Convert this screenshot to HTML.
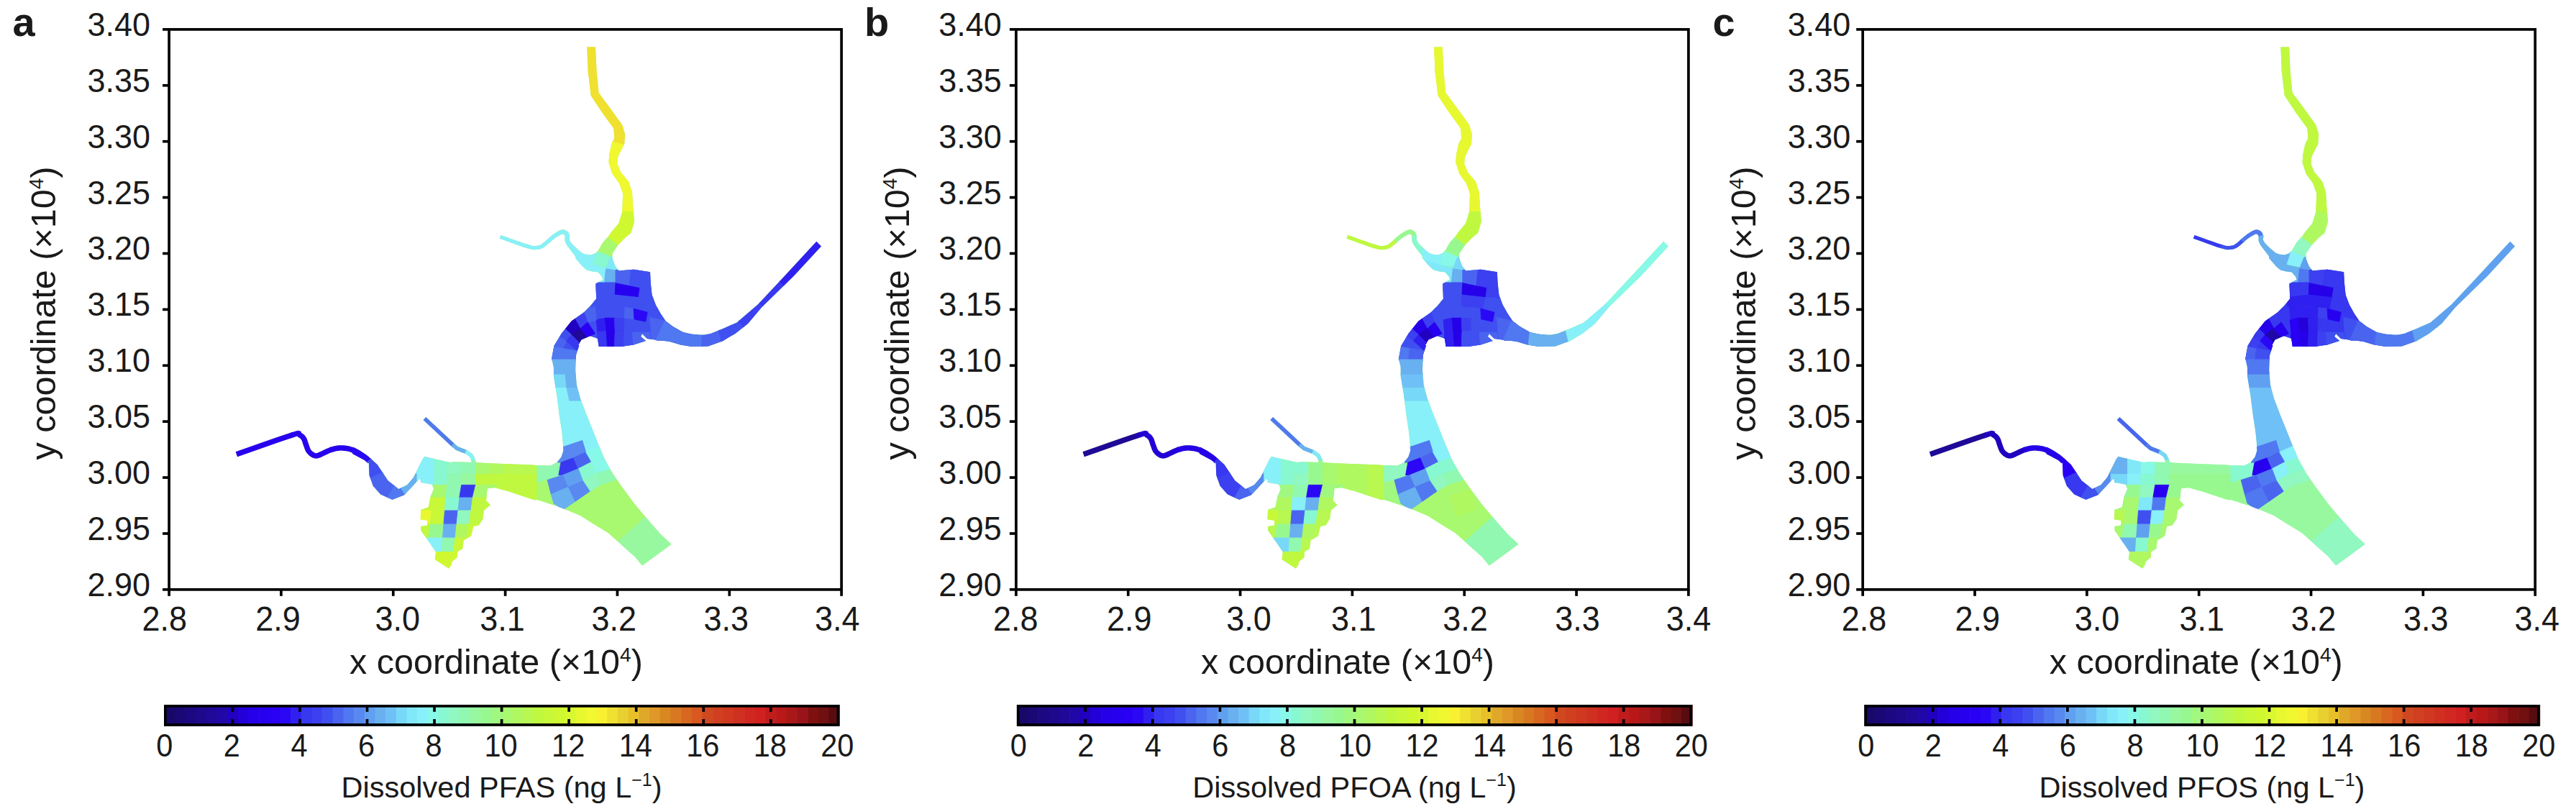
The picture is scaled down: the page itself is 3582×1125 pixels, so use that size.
<!DOCTYPE html>
<html><head><meta charset="utf-8"><style>
html,body{margin:0;padding:0;background:#fff;width:3582px;height:1125px;overflow:hidden}
svg{display:block}
text{font-family:"Liberation Sans", sans-serif;fill:#1a1a1a}
</style></head><body>
<svg width="3582" height="1125" viewBox="0 0 3582 1125">
<rect width="3582" height="1125" fill="#fff"/>
<defs><clipPath id="riv"><polygon points="816.3,65.4 817.7,99.5 821.7,133.1 837.5,156.8 853.3,178.6 854.3,192.4 850.4,200.0 847.4,213.8 846.4,225.7 851.4,241.5 861.3,255.3 866.2,269.2 865.2,294.9 860.3,310.7 850.4,322.5 845.5,329.4 838.6,336.8 831.7,348.7 827.7,352.6 821.8,354.6 812.9,353.6 810.9,352.6 800.0,348.7 800.0,358.6 804.0,363.5 809.9,370.4 815.8,375.4 823.7,377.4 831.7,378.4 836.6,384.3 839.6,391.2 840.6,396.0 862.0,396.0 860.3,376.4 855.4,369.5 851.4,359.6 851.4,352.6 859.3,340.8 869.2,330.4 877.2,324.0 879.0,318.6 882.0,307.7 880.0,285.0 879.0,267.2 874.1,252.4 863.2,239.5 858.3,227.7 859.3,217.8 868.2,200.0 869.1,186.5 865.2,173.7 847.4,148.9 832.5,129.1 829.6,99.5 828.0,65.4"/><polygon points="694.7,331.7 699.1,333.3 705.5,335.6 712.9,338.3 720.5,341.0 727.3,343.4 732.6,345.1 736.2,346.1 738.8,346.8 740.8,347.1 742.4,347.3 743.9,347.2 745.5,347.1 747.2,347.0 749.0,346.8 750.7,346.4 752.5,345.8 754.4,344.9 756.5,343.8 758.8,342.1 761.2,340.1 763.7,337.8 766.2,335.6 768.6,333.5 770.7,331.8 772.7,330.4 774.8,329.1 776.8,327.9 778.6,326.9 780.2,326.1 781.5,325.6 782.3,325.4 782.8,325.5 783.1,325.5 783.3,325.7 783.7,325.9 784.2,326.3 784.5,326.5 784.7,326.8 785.0,327.1 785.2,327.6 785.5,328.2 785.6,328.7 785.7,329.1 785.6,329.9 785.5,331.0 785.4,332.4 785.5,334.2 785.9,336.0 786.5,337.6 787.2,339.0 788.0,340.5 789.0,341.9 790.1,343.5 791.5,345.3 793.1,347.5 795.1,350.0 797.2,352.7 799.4,355.4 801.5,357.9 803.4,360.0 805.2,361.9 807.0,363.5 808.6,364.8 809.9,365.9 810.9,366.8 811.5,367.5 818.5,356.5 817.4,356.1 816.1,355.7 814.8,355.1 813.3,354.5 811.8,353.6 810.2,352.6 808.2,351.1 805.9,349.1 803.4,346.9 801.0,344.6 798.7,342.5 796.9,340.7 795.6,339.2 794.5,337.9 793.6,336.8 793.0,335.8 792.5,334.9 792.1,334.0 791.9,333.3 791.9,332.6 792.0,331.6 792.1,330.4 792.2,328.9 792.0,327.3 791.6,326.0 791.1,324.8 790.5,323.7 789.7,322.6 788.8,321.7 787.8,320.9 786.9,320.4 785.9,319.9 784.5,319.5 783.0,319.3 781.3,319.5 779.5,320.0 777.7,320.7 775.8,321.7 773.8,322.9 771.7,324.3 769.5,325.8 767.3,327.4 765.0,329.3 762.5,331.5 760.0,333.8 757.6,335.9 755.4,337.8 753.5,339.2 751.9,340.2 750.5,340.9 749.3,341.3 748.1,341.6 746.7,341.8 745.1,341.9 743.6,342.0 742.5,342.1 741.4,342.0 739.9,341.7 737.6,341.1 734.2,340.1 729.0,338.4 722.2,336.1 714.6,333.4 707.2,330.7 700.9,328.4 696.5,326.9"/><polygon points="828.3,394.6 860.3,376.4 881.1,374.7 904.0,378.2 904.8,394.6 906.6,410.2 911.8,424.0 918.7,436.2 925.6,446.5 936.0,454.3 949.8,462.1 962.0,464.7 962.0,480.0 926.0,474.2 900.0,471.0 893.0,464.0 891.0,468.0 898.0,474.0 881.0,479.4 863.8,482.0 832.7,482.0 831.0,470.7 820.5,467.3 808.4,472.5 801.5,484.6 799.8,500.0 766.9,500.0 770.4,481.0 780.8,463.8 794.6,446.5 811.9,434.4 820.5,425.7 829.2,415.4"/><polygon points="903.3,380.0 904.8,394.6 906.6,410.2 911.8,424.0 918.7,436.2 925.6,446.5 936.0,454.3 949.8,462.1 962.0,464.7 977.8,465.7 987.9,463.9 1005.2,456.9 1024.6,448.5 1054.2,423.0 1087.5,387.5 1135.3,335.8 1142.0,342.5 1103.9,383.8 1059.3,427.2 1040.2,450.0 1022.5,463.9 1005.2,474.2 984.5,481.8 962.0,482.0 946.4,479.4 925.6,473.4 913.3,473.5"/><polygon points="770.4,481.0 767.3,499.0 769.9,511.1 769.9,523.3 774.2,549.2 777.7,576.9 781.2,600.0 782.7,614.8 783.4,626.7 780.5,635.6 774.5,643.0 765.6,647.5 730.0,646.7 730.0,690.5 752.3,696.5 774.5,703.9 789.4,709.8 807.2,717.2 825.7,729.1 845.5,740.9 863.3,756.8 883.1,774.6 893.0,786.4 933.6,756.8 918.7,742.9 902.9,725.1 883.1,701.4 865.3,677.6 851.5,657.8 841.6,640.0 833.9,622.3 825.0,600.0 815.7,576.9 807.1,554.4 801.9,535.4 800.2,514.6 801.0,493.8 805.4,480.0"/><polygon points="589.8,634.8 605.9,638.5 625.6,642.9 631.8,642.3 656.5,642.9 693.6,644.7 740.0,646.6 745.0,647.0 745.0,695.5 740.0,694.2 706.0,683.1 687.5,678.1 677.6,679.3 675.9,696.3 681.8,702.2 672.9,709.7 671.4,721.5 665.5,730.4 658.1,731.9 655.1,745.3 644.7,751.2 643.2,763.1 635.8,767.5 635.8,774.9 628.4,780.9 627.7,785.3 624.0,790.5 604.7,777.9 606.1,767.5 592.8,748.2 585.4,737.8 585.4,731.9 594.3,730.4 594.3,723.8 584.6,722.3 585.4,708.9 595.8,705.2 598.7,690.4 603.2,680.0 600.9,673.8 584.8,670.7 585.5,667.0 582.4,665.7"/><polygon points="330.1,635.3 339.4,632.0 352.9,627.3 368.5,621.7 384.2,616.2 398.1,611.5 407.9,608.2 413.3,606.6 415.6,606.2 413.3,605.2 412.3,602.5 412.1,605.1 414.3,607.8 415.8,608.5 416.5,609.0 417.3,609.5 417.9,610.2 418.6,611.1 419.3,612.0 419.8,612.9 420.2,614.0 420.7,615.4 421.1,616.9 421.6,618.6 422.2,620.3 422.8,621.8 423.3,623.3 423.9,625.0 424.7,626.7 425.5,628.5 426.7,630.1 428.0,631.6 429.4,633.0 430.9,634.2 432.4,635.3 434.0,636.2 435.6,636.8 436.9,637.3 438.3,637.6 439.9,637.6 441.4,637.4 442.9,637.0 444.8,636.4 447.2,635.4 449.9,634.1 452.9,632.7 455.9,631.3 458.7,630.1 461.2,629.1 463.5,628.4 465.8,627.7 467.8,627.2 469.9,626.9 472.0,626.7 474.2,626.6 476.6,626.7 479.1,626.9 481.7,627.3 484.3,627.8 486.9,628.5 489.3,629.3 491.7,630.3 494.1,631.5 496.6,632.9 499.0,634.4 501.3,635.9 503.3,637.2 505.1,638.5 506.8,639.9 508.3,641.2 509.7,642.5 510.9,643.6 511.9,644.4 516.7,638.8 515.9,638.1 514.7,637.0 513.2,635.6 511.5,634.2 509.6,632.6 507.5,631.2 505.3,629.7 503.0,628.2 500.4,626.5 497.6,625.0 494.8,623.5 491.9,622.3 489.0,621.4 486.0,620.6 483.0,620.0 480.0,619.6 477.1,619.3 474.2,619.2 471.5,619.3 468.9,619.5 466.4,620.0 463.9,620.6 461.4,621.3 458.8,622.1 455.9,623.2 452.8,624.6 449.7,626.1 446.8,627.5 444.2,628.6 442.2,629.4 440.7,629.9 439.8,630.2 439.3,630.3 439.2,630.3 438.9,630.2 438.2,630.0 437.3,629.6 436.4,629.0 435.3,628.3 434.2,627.4 433.3,626.5 432.5,625.7 431.9,624.8 431.4,623.7 430.9,622.3 430.3,620.9 429.8,619.3 429.2,617.7 428.7,616.3 428.2,614.8 427.7,613.2 427.2,611.5 426.5,609.7 425.5,608.0 424.5,606.6 423.5,605.3 422.2,604.0 420.8,602.9 419.2,601.9 418.3,601.6 419.3,603.1 419.5,604.2 418.7,600.1 414.8,598.8 411.4,599.5 405.7,601.2 395.7,604.5 381.8,609.2 366.0,614.8 350.4,620.3 336.9,625.0 327.7,628.3"/><polygon points="492.0,623.8 509.8,632.7 524.7,646.0 539.5,668.3 554.3,680.1 566.2,674.2 575.1,663.8 588.4,637.1 593.0,640.0 582.0,667.0 572.0,678.0 562.0,688.5 545.4,695.0 529.1,687.5 518.7,675.7 513.4,660.8 512.8,643.1 490.0,631.0"/><polygon points="588.5,583.9 627.6,620.6 634.1,625.9 646.9,630.9 653.1,635.2 655.4,640.0 656.3,646.4 661.9,645.6 660.8,638.4 657.3,631.4 649.5,625.9 636.7,620.9 631.4,616.4 592.3,579.9"/></clipPath></defs>
<g transform="translate(0.00,0)"><g clip-path="url(#riv)">
<polygon points="300.0,50.0 1170.0,50.0 1170.0,810.0 300.0,810.0" fill="#a8f870" stroke="#a8f870" stroke-width="0.9"/>
<polygon points="760.0,396.0 858.0,396.0 860.0,372.0 910.0,372.0 915.0,425.0 970.0,465.0 960.0,490.0 760.0,500.0" fill="#4050f0" stroke="#4050f0" stroke-width="0.9"/>
<polygon points="328.9,631.8 333.2,644.1 342.5,640.8 356.0,636.0 371.6,630.5 387.3,625.0 401.0,620.3 410.8,617.1 411.4,616.9 404.1,591.9 402.8,592.3 392.7,595.6 378.7,600.4 362.9,606.0 347.3,611.5 333.8,616.3 324.6,619.5 328.9,631.8" fill="#2800f0" stroke="#2800f0" stroke-width="0.9"/>
<polygon points="410.7,617.1 410.5,617.2 415.7,615.6 416.6,615.4 406.6,611.6 403.3,600.3 403.2,607.5 409.4,615.7 411.6,616.8 411.2,616.5 411.0,616.4 411.0,616.5 411.2,616.7 411.4,616.9 411.3,616.8 411.5,617.2 411.8,618.1 412.2,619.6 412.8,621.6 413.5,623.5 414.1,625.0 414.6,626.5 415.3,628.4 416.2,630.6 417.5,633.1 419.3,635.8 421.2,638.1 423.2,640.0 425.3,641.7 427.5,643.2 429.8,644.5 432.2,645.5 434.4,646.3 437.2,646.8 440.6,646.9 443.5,646.5 445.7,645.9 448.0,645.1 450.9,644.0 453.9,642.6 456.9,641.1 459.7,639.8 462.2,638.7 464.4,637.8 465.0,637.7 457.2,612.9 455.6,613.4 452.3,614.6 448.9,616.1 445.7,617.7 442.8,619.0 440.5,620.1 439.0,620.7 438.0,621.0 437.7,621.1 438.6,621.0 440.4,621.0 441.4,621.2 441.6,621.3 441.5,621.3 441.3,621.1 440.9,620.8 440.4,620.4 440.0,620.1 439.9,620.0 440.0,620.1 439.8,619.8 439.5,619.0 439.1,617.7 438.5,616.1 437.9,614.5 437.5,613.4 437.1,612.1 436.6,610.4 435.9,608.3 434.9,605.7 433.4,603.1 431.9,601.0 430.4,599.1 428.5,597.2 426.2,595.3 423.5,593.7 423.2,593.7 428.2,600.7 428.6,606.3 425.5,593.8 413.8,589.6 409.1,590.5 403.1,592.2 402.5,592.4" fill="#2800f0" stroke="#2800f0" stroke-width="0.9"/>
<polygon points="464.5,637.8 463.9,638.0 466.2,637.3 468.1,636.7 469.7,636.3 471.2,636.1 472.6,635.9 474.1,635.9 476.0,636.0 478.0,636.2 480.1,636.5 482.3,636.9 484.3,637.4 486.4,638.1 486.2,638.1 496.2,614.1 494.8,613.5 491.6,612.5 488.1,611.5 484.6,610.8 481.1,610.3 477.7,610.0 474.3,609.9 470.9,610.0 467.6,610.3 464.5,610.9 461.5,611.6 458.7,612.4 456.1,613.2 455.4,613.5" fill="#2800f0" stroke="#2800f0" stroke-width="0.9"/>
<polygon points="486.1,638.0 485.8,637.9 487.8,638.7 489.7,639.7 491.8,640.9 494.0,642.2 496.1,643.6 498.2,645.0 500.0,646.2 501.3,647.1 502.2,647.8 502.8,648.3 503.5,648.9 504.0,649.5 523.7,632.6 522.4,631.1 520.4,629.2 518.4,627.4 516.4,625.9 514.5,624.6 512.6,623.4 510.5,621.9 508.0,620.3 505.1,618.6 502.0,616.8 498.7,615.1 495.4,613.7 494.1,613.3" fill="#2a08f5" stroke="#2a08f5" stroke-width="0.9"/>
<polygon points="503.2,648.6 504.1,649.6 504.8,650.7 505.7,652.1 506.7,653.9 507.9,656.1 509.2,658.6 510.5,661.0 511.7,663.4 513.0,666.1 513.4,667.1 537.0,656.0 536.5,655.0 535.0,651.9 533.5,649.0 532.1,646.4 530.9,644.0 529.6,641.5 528.1,638.9 526.4,636.2 524.5,633.6 522.9,631.7" fill="#4050f0" stroke="#4050f0" stroke-width="0.9"/>
<polygon points="513.0,666.0 513.0,666.0 514.4,669.1 516.1,672.5 518.1,676.1 520.4,679.6 522.8,682.7 525.4,685.9 528.2,689.1 531.4,692.3 535.0,695.2 537.5,696.7 550.5,674.2 550.2,674.1 548.9,673.0 547.1,671.3 545.2,669.1 543.3,666.7 541.6,664.4 540.3,662.5 539.1,660.3 537.8,657.8 536.5,655.0 536.4,654.9" fill="#4a64f0" stroke="#4a64f0" stroke-width="0.9"/>
<polygon points="536.5,696.1 539.9,697.9 544.8,699.5 549.8,699.9 554.4,699.5 558.5,698.4 562.1,697.0 565.6,695.2 568.5,693.3 569.8,692.3 552.9,672.5 554.0,671.7 552.4,672.8 551.4,673.3 550.3,673.7 549.7,673.9 549.6,673.9 549.9,674.0 550.1,674.1 549.4,673.6" fill="#5078f0" stroke="#5078f0" stroke-width="0.9"/>
<polygon points="567.5,693.9 569.4,692.7 572.4,690.1 575.2,687.3 577.8,684.4 580.1,681.6 582.3,678.9 584.4,676.1 586.3,673.2 588.0,670.4 589.6,667.5 591.1,664.8 591.8,663.4 568.7,651.5 568.1,652.6 566.8,655.1 565.6,657.3 564.4,659.3 563.1,661.2 561.7,663.1 560.0,665.2 558.2,667.4 556.4,669.3 554.8,671.0 553.2,672.3 553.2,672.3" fill="#68b0f0" stroke="#68b0f0" stroke-width="0.9"/>
<polygon points="591.2,664.5 592.6,661.8 594.2,658.5 595.9,654.9 597.5,651.2 598.9,647.9 600.1,645.1 600.9,643.1 589.0,638.0 589.0,638.0 577.1,632.9 576.2,634.9 575.0,637.7 573.6,640.9 572.2,644.3 570.7,647.4 569.4,650.2 568.2,652.5" fill="#88f0f8" stroke="#88f0f8" stroke-width="0.9"/>
<polygon points="590.4,581.9 585.6,587.0 624.7,623.6 625.9,624.6 634.9,613.9 634.3,613.4 595.2,576.8 590.4,581.9" fill="#5078f0" stroke="#5078f0" stroke-width="0.9"/>
<polygon points="624.7,623.6 625.0,623.9 632.1,629.6 645.6,634.9 644.7,634.5 652.7,623.0 650.8,621.9 638.7,617.2 634.0,613.1 634.3,613.4" fill="#68b0f0" stroke="#68b0f0" stroke-width="0.9"/>
<polygon points="645.1,634.7 644.3,634.2 650.0,638.0 651.4,641.3 652.2,647.0 659.1,646.0 659.1,646.0 666.0,645.0 664.8,637.1 660.4,628.6 652.1,622.6 650.2,621.7" fill="#88f0f8" stroke="#88f0f8" stroke-width="0.9"/>
<polygon points="822.0,65.0 807.0,65.7 808.6,100.6 812.9,136.0 830.3,161.5 846.0,183.0 846.7,189.4 844.6,196.5 845.0,195.2 873.1,205.6 873.8,203.5 876.7,189.6 872.6,169.0 854.7,144.1 841.1,126.0 838.6,98.4 837.0,64.3 822.0,65.0" fill="#f0e030" stroke="#f0e030" stroke-width="0.9"/>
<polygon points="844.8,195.8 845.1,194.9 838.9,212.1 837.6,229.0 844.2,247.9 854.6,261.1 857.7,270.2 857.6,289.8 857.2,294.5 887.2,296.7 887.6,290.2 887.5,266.2 880.8,246.5 870.4,233.1 867.2,224.4 867.9,219.5 873.3,205.1 874.0,202.7" fill="#f0f830" stroke="#f0f830" stroke-width="0.9"/>
<polygon points="857.3,293.3 856.8,305.1 852.4,312.1 845.3,320.7 840.0,327.7 864.0,345.7 868.7,339.3 877.2,329.1 885.6,313.3 887.2,295.5" fill="#d0f830" stroke="#d0f830" stroke-width="0.9"/>
<polygon points="840.7,326.8 835.8,333.2 828.1,344.3 822.6,355.3 836.0,362.0 836.0,362.0 849.4,368.7 853.9,359.7 860.2,350.8 864.7,344.8" fill="#a8f870" stroke="#a8f870" stroke-width="0.9"/>
<polygon points="695.6,329.3 693.3,335.9 731.1,349.2 732.9,349.6 735.1,335.8 735.7,336.0 697.9,322.7 695.6,329.3" fill="#88f0f8" stroke="#88f0f8" stroke-width="0.9"/>
<polygon points="730.5,349.0 732.2,349.5 745.7,351.5 758.4,347.6 768.1,339.6 759.0,328.9 751.6,335.4 744.9,337.5 734.6,335.7 735.2,335.8" fill="#88f0f8" stroke="#88f0f8" stroke-width="0.9"/>
<polygon points="767.2,340.3 772.7,335.5 783.8,329.6 781.4,329.3 782.3,331.9 781.6,329.6 795.6,329.6 794.9,326.1 790.6,318.7 779.4,316.4 765.3,323.7 758.1,329.7" fill="#88f0f8" stroke="#88f0f8" stroke-width="0.9"/>
<polygon points="782.1,331.7 781.6,329.3 782.1,336.6 788.8,347.4 801.8,361.2 804.4,363.2 812.4,351.7 811.8,351.4 799.6,338.6 795.1,331.4 795.6,328.7 794.5,325.2" fill="#88f0f8" stroke="#88f0f8" stroke-width="0.9"/>
<polygon points="803.4,362.5 811.0,367.7 815.0,362.0 815.0,362.0 819.0,356.3 811.4,351.0" fill="#88f0f8" stroke="#88f0f8" stroke-width="0.9"/>
<polygon points="800.0,346.0 830.7,349.7 824.7,368.5 800.0,362.0" fill="#88f0f8" stroke="#88f0f8" stroke-width="0.9"/>
<polygon points="830.7,349.7 851.4,358.1 849.5,371.4 824.7,368.5" fill="#88f8d0" stroke="#88f8d0" stroke-width="0.9"/>
<polygon points="800.0,362.0 824.7,368.5 843.5,372.4 841.5,395.0 800.0,395.0" fill="#88f0f8" stroke="#88f0f8" stroke-width="0.9"/>
<polygon points="848.5,358.6 856.0,355.0 863.0,377.0 842.5,373.9" fill="#80e8f8" stroke="#80e8f8" stroke-width="0.9"/>
<polygon points="842.5,373.9 859.3,376.4 858.4,394.2 840.6,392.2" fill="#68b0f0" stroke="#68b0f0" stroke-width="0.9"/>
<polygon points="856.0,375.6 879.4,373.8 877.6,398.1 856.0,393.7" fill="#4a64f0" stroke="#4a64f0" stroke-width="0.9"/>
<polygon points="877.6,373.8 908.8,377.3 908.8,396.3 889.8,400.7 875.1,396.3" fill="#4050f0" stroke="#4050f0" stroke-width="0.9"/>
<polygon points="825.7,392.9 856.0,392.9 855.2,410.2 825.7,413.6" fill="#4050f0" stroke="#4050f0" stroke-width="0.9"/>
<polygon points="856.0,393.7 889.8,400.7 888.0,413.6 855.2,409.3" fill="#2800f0" stroke="#2800f0" stroke-width="0.9"/>
<polygon points="889.8,400.7 908.8,394.6 910.5,415.4 888.0,413.6" fill="#4050f0" stroke="#4050f0" stroke-width="0.9"/>
<polygon points="825.7,413.6 855.2,410.2 854.3,425.7 825.7,426.6" fill="#4050f0" stroke="#4050f0" stroke-width="0.9"/>
<polygon points="855.2,410.2 888.0,413.6 884.6,429.2 854.3,425.7" fill="#4050f0" stroke="#4050f0" stroke-width="0.9"/>
<polygon points="888.0,413.6 910.5,415.4 915.7,429.2 884.6,429.2" fill="#4050f0" stroke="#4050f0" stroke-width="0.9"/>
<polygon points="811.9,429.2 827.5,426.6 829.2,444.8 817.1,448.2" fill="#4a64f0" stroke="#4a64f0" stroke-width="0.9"/>
<polygon points="827.5,426.6 869.0,427.5 868.1,443.0 829.2,444.8" fill="#4050f0" stroke="#4050f0" stroke-width="0.9"/>
<polygon points="869.0,427.5 881.1,429.2 882.0,444.8 868.1,443.0" fill="#4a64f0" stroke="#4a64f0" stroke-width="0.9"/>
<polygon points="881.1,429.2 901.0,434.4 898.4,448.2 882.0,444.8" fill="#2a08f5" stroke="#2a08f5" stroke-width="0.9"/>
<polygon points="901.0,434.4 915.7,429.2 931.3,450.0 898.4,448.2" fill="#4050f0" stroke="#4050f0" stroke-width="0.9"/>
<polygon points="829.2,444.8 841.3,442.2 843.0,460.3 830.9,462.1" fill="#3020f0" stroke="#3020f0" stroke-width="0.9"/>
<polygon points="841.3,442.2 854.3,442.2 855.2,460.3 843.0,460.3" fill="#2800f0" stroke="#2800f0" stroke-width="0.9"/>
<polygon points="854.3,442.2 869.0,443.0 868.1,460.3 855.2,460.3" fill="#3c40f0" stroke="#3c40f0" stroke-width="0.9"/>
<polygon points="868.1,443.0 882.0,444.8 881.1,462.1 868.1,460.3" fill="#4050f0" stroke="#4050f0" stroke-width="0.9"/>
<polygon points="882.0,444.8 898.4,448.2 894.9,462.1 881.1,462.1" fill="#4050f0" stroke="#4050f0" stroke-width="0.9"/>
<polygon points="830.9,462.1 843.0,460.3 844.8,484.6 829.2,484.6" fill="#3838f0" stroke="#3838f0" stroke-width="0.9"/>
<polygon points="843.0,460.3 855.2,460.3 854.3,484.6 844.8,484.6" fill="#2600e8" stroke="#2600e8" stroke-width="0.9"/>
<polygon points="855.2,460.3 868.1,460.3 867.3,484.6 854.3,484.6" fill="#3c40f0" stroke="#3c40f0" stroke-width="0.9"/>
<polygon points="868.1,460.3 879.4,462.1 881.1,484.6 867.3,484.6" fill="#4050f0" stroke="#4050f0" stroke-width="0.9"/>
<polygon points="879.4,462.1 903.6,462.1 907.1,481.1 881.1,484.6" fill="#4a64f0" stroke="#4a64f0" stroke-width="0.9"/>
<polygon points="903.6,441.3 926.1,446.5 920.9,481.1 907.1,481.1" fill="#4a64f0" stroke="#4a64f0" stroke-width="0.9"/>
<polygon points="811.9,434.4 827.5,426.6 829.2,444.8 817.1,448.2" fill="#4a64f0" stroke="#4a64f0" stroke-width="0.9"/>
<polygon points="798.1,441.3 811.9,434.4 817.1,448.2 805.0,455.2" fill="#3c40f0" stroke="#3c40f0" stroke-width="0.9"/>
<polygon points="782.5,454.3 798.1,441.3 806.7,456.9 794.6,465.5" fill="#2200c0" stroke="#2200c0" stroke-width="0.9"/>
<polygon points="794.6,465.5 806.7,456.9 817.1,469.0 806.7,479.4" fill="#200898" stroke="#200898" stroke-width="0.9"/>
<polygon points="806.7,456.9 817.1,448.2 827.5,463.8 817.1,469.0" fill="#2a00f5" stroke="#2a00f5" stroke-width="0.9"/>
<polygon points="770.4,463.8 782.5,454.3 794.6,465.5 787.7,474.2" fill="#4050f0" stroke="#4050f0" stroke-width="0.9"/>
<polygon points="763.5,481.1 770.4,463.8 787.7,474.2 782.5,484.6" fill="#4a64f0" stroke="#4a64f0" stroke-width="0.9"/>
<polygon points="787.7,474.2 794.6,465.5 808.4,479.4 803.3,488.0" fill="#3838f0" stroke="#3838f0" stroke-width="0.9"/>
<polygon points="763.5,501.9 763.5,481.1 782.5,484.6 780.8,501.9" fill="#5078f0" stroke="#5078f0" stroke-width="0.9"/>
<polygon points="780.8,501.9 782.5,484.6 803.3,488.0 805.0,501.9" fill="#5078f0" stroke="#5078f0" stroke-width="0.9"/>
<polygon points="918.0,460.0 911.8,473.7 935.0,484.1 947.8,486.0 951.2,456.2 945.0,455.9 924.2,446.3 918.0,460.0" fill="#5078f0" stroke="#5078f0" stroke-width="0.9"/>
<polygon points="946.6,485.9 954.3,486.7 976.2,488.4 978.4,458.5 956.9,456.9 950.0,456.1" fill="#5078f0" stroke="#5078f0" stroke-width="0.9"/>
<polygon points="975.0,488.3 981.1,488.1 1006.2,482.0 999.0,452.8 974.5,458.9 977.3,458.4" fill="#4a64f0" stroke="#4a64f0" stroke-width="0.9"/>
<polygon points="1005.0,482.3 1010.7,480.2 1037.1,463.8 1041.0,460.6 1021.4,438.0 1020.9,438.6 995.3,454.4 997.8,453.1" fill="#4050f0" stroke="#4050f0" stroke-width="0.9"/>
<polygon points="1040.1,461.4 1067.7,437.5 1071.1,434.1 1049.8,413.0 1047.9,414.9 1020.4,438.8" fill="#3c40f0" stroke="#3c40f0" stroke-width="0.9"/>
<polygon points="1070.2,435.0 1099.9,405.0 1078.6,383.9 1048.9,413.9" fill="#3838f0" stroke="#3838f0" stroke-width="0.9"/>
<polygon points="1099.1,405.8 1108.0,396.8 1149.8,349.4 1153.8,344.2 1142.0,335.0 1142.0,335.0 1130.2,325.8 1127.2,329.6 1085.6,376.8 1077.8,384.7" fill="#3020f0" stroke="#3020f0" stroke-width="0.9"/>
<polygon points="760.0,500.0 810.0,500.0 810.0,521.0 760.0,521.0" fill="#68b0f0" stroke="#68b0f0" stroke-width="0.9"/>
<polygon points="760.0,521.0 786.0,521.0 788.0,539.4 760.0,539.4" fill="#78d8f8" stroke="#78d8f8" stroke-width="0.9"/>
<polygon points="786.0,521.0 810.0,521.0 812.0,539.4 788.0,539.4" fill="#68b0f0" stroke="#68b0f0" stroke-width="0.9"/>
<polygon points="760.0,539.4 788.0,539.4 792.0,558.0 760.0,558.0" fill="#88f0f8" stroke="#88f0f8" stroke-width="0.9"/>
<polygon points="788.0,539.4 812.0,539.4 818.0,558.0 792.0,558.0" fill="#70c0f8" stroke="#70c0f8" stroke-width="0.9"/>
<polygon points="760.0,558.0 830.0,558.0 850.0,630.0 760.0,630.0" fill="#88f0f8" stroke="#88f0f8" stroke-width="0.9"/>
<polygon points="745.0,645.0 776.7,643.8 782.7,660.8 761.2,667.5 745.0,672.0" fill="#90f8b0" stroke="#90f8b0" stroke-width="0.9"/>
<polygon points="745.0,672.0 761.2,667.5 766.4,687.6 772.0,705.0 745.0,700.0" fill="#a8f870" stroke="#a8f870" stroke-width="0.9"/>
<polygon points="783.2,621.4 809.7,612.5 814.6,628.6 797.7,636.6 780.0,643.1 775.2,643.1 775.2,622.2" fill="#5888f0" stroke="#5888f0" stroke-width="0.9"/>
<polygon points="780.0,643.1 797.7,636.6 804.1,651.9 782.4,660.7 776.8,660.7" fill="#3838f0" stroke="#3838f0" stroke-width="0.9"/>
<polygon points="797.7,636.6 814.6,628.6 822.6,642.3 804.1,651.9" fill="#4a64f0" stroke="#4a64f0" stroke-width="0.9"/>
<polygon points="814.6,628.6 833.1,620.5 841.9,636.6 822.6,642.3" fill="#88f8e8" stroke="#88f8e8" stroke-width="0.9"/>
<polygon points="804.1,651.9 822.6,642.3 828.2,659.1 810.5,668.8" fill="#88f8d0" stroke="#88f8d0" stroke-width="0.9"/>
<polygon points="822.6,642.3 841.9,636.6 849.1,652.7 828.2,659.1" fill="#88f8e8" stroke="#88f8e8" stroke-width="0.9"/>
<polygon points="810.5,668.8 828.2,659.1 836.3,673.6 820.2,683.2" fill="#90f8c0" stroke="#90f8c0" stroke-width="0.9"/>
<polygon points="828.2,659.1 849.1,652.7 857.2,667.2 836.3,673.6" fill="#90f8b0" stroke="#90f8b0" stroke-width="0.9"/>
<polygon points="782.4,660.7 804.1,651.9 810.5,668.8 789.6,677.6" fill="#60a0f0" stroke="#60a0f0" stroke-width="0.9"/>
<polygon points="789.6,677.6 810.5,668.8 820.2,683.2 799.3,697.7" fill="#5888f0" stroke="#5888f0" stroke-width="0.9"/>
<polygon points="761.2,667.5 782.4,660.7 789.6,677.6 766.4,687.6" fill="#5888f0" stroke="#5888f0" stroke-width="0.9"/>
<polygon points="766.4,687.6 789.6,677.6 799.3,697.7 783.0,709.0 770.0,700.0" fill="#68b0f0" stroke="#68b0f0" stroke-width="0.9"/>
<polygon points="840.0,770.0 905.0,712.0 960.0,760.0 895.0,805.0" fill="#98f8a0" stroke="#98f8a0" stroke-width="0.9"/>
<polygon points="838.0,690.0 866.0,680.0 876.0,708.0 848.0,718.0" fill="#a8f870" stroke="#a8f870" stroke-width="0.9"/>
<polygon points="580.0,628.0 603.4,628.0 603.4,659.6 580.0,659.6" fill="#88f0f8" stroke="#88f0f8" stroke-width="0.9"/>
<polygon points="580.0,659.6 603.4,659.6 603.4,700.0 580.0,700.0" fill="#88f0f8" stroke="#88f0f8" stroke-width="0.9"/>
<polygon points="603.4,634.0 621.9,634.0 621.9,659.6 603.4,659.6" fill="#88f8d0" stroke="#88f8d0" stroke-width="0.9"/>
<polygon points="603.4,659.6 621.9,659.6 621.9,700.0 603.4,700.0" fill="#88f8d0" stroke="#88f8d0" stroke-width="0.9"/>
<polygon points="621.9,640.0 641.7,640.0 641.7,659.6 621.9,659.6" fill="#90f8c0" stroke="#90f8c0" stroke-width="0.9"/>
<polygon points="621.9,659.6 641.7,659.6 641.7,700.0 621.9,700.0" fill="#90f8b0" stroke="#90f8b0" stroke-width="0.9"/>
<polygon points="641.7,640.0 661.5,640.0 661.5,659.6 641.7,659.6" fill="#90f8b0" stroke="#90f8b0" stroke-width="0.9"/>
<polygon points="641.7,659.6 661.5,659.6 661.5,700.0 641.7,700.0" fill="#98f8a0" stroke="#98f8a0" stroke-width="0.9"/>
<polygon points="661.5,640.0 681.3,640.0 681.3,659.6 661.5,659.6" fill="#a8f870" stroke="#a8f870" stroke-width="0.9"/>
<polygon points="661.5,659.6 681.3,659.6 681.3,700.0 661.5,700.0" fill="#c0f840" stroke="#c0f840" stroke-width="0.9"/>
<polygon points="681.3,640.0 699.8,640.0 699.8,659.6 681.3,659.6" fill="#b0f860" stroke="#b0f860" stroke-width="0.9"/>
<polygon points="681.3,659.6 699.8,659.6 699.8,700.0 681.3,700.0" fill="#c0f840" stroke="#c0f840" stroke-width="0.9"/>
<polygon points="699.8,640.0 723.3,640.0 723.3,659.6 699.8,659.6" fill="#b8f850" stroke="#b8f850" stroke-width="0.9"/>
<polygon points="699.8,659.6 723.3,659.6 723.3,700.0 699.8,700.0" fill="#c0f840" stroke="#c0f840" stroke-width="0.9"/>
<polygon points="723.3,640.0 746.0,640.0 746.0,659.6 723.3,659.6" fill="#b8f850" stroke="#b8f850" stroke-width="0.9"/>
<polygon points="723.3,659.6 746.0,659.6 746.0,700.0 723.3,700.0" fill="#c0f840" stroke="#c0f840" stroke-width="0.9"/>
<polygon points="575.0,674.4 603.4,674.4 602.0,692.0 575.0,692.0" fill="#a8f870" stroke="#a8f870" stroke-width="0.9"/>
<polygon points="603.4,674.4 621.9,674.4 619.5,692.0 602.0,692.0" fill="#a8f870" stroke="#a8f870" stroke-width="0.9"/>
<polygon points="621.9,674.4 641.7,674.4 638.8,692.0 619.5,692.0" fill="#90f8b0" stroke="#90f8b0" stroke-width="0.9"/>
<polygon points="641.7,674.4 661.5,674.4 657.3,692.0 638.8,692.0" fill="#3838f0" stroke="#3838f0" stroke-width="0.9"/>
<polygon points="661.5,674.4 690.0,674.4 690.0,692.0 657.3,692.0" fill="#a8f870" stroke="#a8f870" stroke-width="0.9"/>
<polygon points="575.0,692.0 602.0,692.0 600.0,710.0 575.0,710.0" fill="#c8f838" stroke="#c8f838" stroke-width="0.9"/>
<polygon points="602.0,692.0 619.5,692.0 618.5,710.0 600.0,710.0" fill="#c8f838" stroke="#c8f838" stroke-width="0.9"/>
<polygon points="619.5,692.0 638.8,692.0 637.0,710.0 618.5,710.0" fill="#88f8d0" stroke="#88f8d0" stroke-width="0.9"/>
<polygon points="638.8,692.0 657.3,692.0 655.0,710.0 637.0,710.0" fill="#68b0f0" stroke="#68b0f0" stroke-width="0.9"/>
<polygon points="657.3,692.0 690.0,692.0 690.0,710.0 655.0,710.0" fill="#c0f840" stroke="#c0f840" stroke-width="0.9"/>
<polygon points="575.0,710.0 600.0,710.0 598.0,729.0 575.0,729.0" fill="#e8f830" stroke="#e8f830" stroke-width="0.9"/>
<polygon points="600.0,710.0 618.5,710.0 617.0,729.0 598.0,729.0" fill="#c8f838" stroke="#c8f838" stroke-width="0.9"/>
<polygon points="618.5,710.0 637.0,710.0 635.0,729.0 617.0,729.0" fill="#4a64f0" stroke="#4a64f0" stroke-width="0.9"/>
<polygon points="637.0,710.0 655.0,710.0 652.0,729.0 635.0,729.0" fill="#90f8c0" stroke="#90f8c0" stroke-width="0.9"/>
<polygon points="655.0,710.0 690.0,710.0 690.0,729.0 652.0,729.0" fill="#c0f840" stroke="#c0f840" stroke-width="0.9"/>
<polygon points="575.0,729.0 598.0,729.0 596.0,748.0 575.0,748.0" fill="#c0f840" stroke="#c0f840" stroke-width="0.9"/>
<polygon points="598.0,729.0 617.0,729.0 615.5,748.0 596.0,748.0" fill="#98f890" stroke="#98f890" stroke-width="0.9"/>
<polygon points="617.0,729.0 635.0,729.0 633.0,748.0 615.5,748.0" fill="#68b0f0" stroke="#68b0f0" stroke-width="0.9"/>
<polygon points="635.0,729.0 652.0,729.0 649.0,748.0 633.0,748.0" fill="#b0f860" stroke="#b0f860" stroke-width="0.9"/>
<polygon points="652.0,729.0 690.0,729.0 690.0,748.0 649.0,748.0" fill="#c8f838" stroke="#c8f838" stroke-width="0.9"/>
<polygon points="575.0,748.0 596.0,748.0 596.0,767.5 575.0,767.5" fill="#88f0f8" stroke="#88f0f8" stroke-width="0.9"/>
<polygon points="596.0,748.0 615.5,748.0 614.3,767.5 596.0,767.5" fill="#88f0f8" stroke="#88f0f8" stroke-width="0.9"/>
<polygon points="615.5,748.0 633.0,748.0 630.6,767.5 614.3,767.5" fill="#90f8b0" stroke="#90f8b0" stroke-width="0.9"/>
<polygon points="633.0,748.0 649.0,748.0 644.7,767.5 630.6,767.5" fill="#c8f838" stroke="#c8f838" stroke-width="0.9"/>
<polygon points="649.0,748.0 690.0,748.0 690.0,767.5 644.7,767.5" fill="#c8f838" stroke="#c8f838" stroke-width="0.9"/>
<polygon points="575.0,767.5 596.0,767.5 596.0,795.0 575.0,795.0" fill="#d0f830" stroke="#d0f830" stroke-width="0.9"/>
<polygon points="596.0,767.5 614.3,767.5 612.0,795.0 596.0,795.0" fill="#d0f830" stroke="#d0f830" stroke-width="0.9"/>
<polygon points="614.3,767.5 630.6,767.5 628.0,795.0 612.0,795.0" fill="#d0f830" stroke="#d0f830" stroke-width="0.9"/>
<polygon points="630.6,767.5 644.7,767.5 640.0,795.0 628.0,795.0" fill="#d0f830" stroke="#d0f830" stroke-width="0.9"/>
<polygon points="644.7,767.5 690.0,767.5 690.0,795.0 640.0,795.0" fill="#d0f830" stroke="#d0f830" stroke-width="0.9"/>
</g></g>
<g transform="translate(1177.80,0)"><g clip-path="url(#riv)">
<polygon points="300.0,50.0 1170.0,50.0 1170.0,810.0 300.0,810.0" fill="#a8f870" stroke="#a8f870" stroke-width="0.9"/>
<polygon points="760.0,396.0 858.0,396.0 860.0,372.0 910.0,372.0 915.0,425.0 970.0,465.0 960.0,490.0 760.0,500.0" fill="#4050f0" stroke="#4050f0" stroke-width="0.9"/>
<polygon points="328.9,631.8 333.2,644.1 342.5,640.8 356.0,636.0 371.6,630.5 387.3,625.0 401.0,620.3 410.8,617.1 411.4,616.9 404.1,591.9 402.8,592.3 392.7,595.6 378.7,600.4 362.9,606.0 347.3,611.5 333.8,616.3 324.6,619.5 328.9,631.8" fill="#200898" stroke="#200898" stroke-width="0.9"/>
<polygon points="410.7,617.1 410.5,617.2 415.7,615.6 416.6,615.4 406.6,611.6 403.3,600.3 403.2,607.5 409.4,615.7 411.6,616.8 411.2,616.5 411.0,616.4 411.0,616.5 411.2,616.7 411.4,616.9 411.3,616.8 411.5,617.2 411.8,618.1 412.2,619.6 412.8,621.6 413.5,623.5 414.1,625.0 414.6,626.5 415.3,628.4 416.2,630.6 417.5,633.1 419.3,635.8 421.2,638.1 423.2,640.0 425.3,641.7 427.5,643.2 429.8,644.5 432.2,645.5 434.4,646.3 437.2,646.8 440.6,646.9 443.5,646.5 445.7,645.9 448.0,645.1 450.9,644.0 453.9,642.6 456.9,641.1 459.7,639.8 462.2,638.7 464.4,637.8 465.0,637.7 457.2,612.9 455.6,613.4 452.3,614.6 448.9,616.1 445.7,617.7 442.8,619.0 440.5,620.1 439.0,620.7 438.0,621.0 437.7,621.1 438.6,621.0 440.4,621.0 441.4,621.2 441.6,621.3 441.5,621.3 441.3,621.1 440.9,620.8 440.4,620.4 440.0,620.1 439.9,620.0 440.0,620.1 439.8,619.8 439.5,619.0 439.1,617.7 438.5,616.1 437.9,614.5 437.5,613.4 437.1,612.1 436.6,610.4 435.9,608.3 434.9,605.7 433.4,603.1 431.9,601.0 430.4,599.1 428.5,597.2 426.2,595.3 423.5,593.7 423.2,593.7 428.2,600.7 428.6,606.3 425.5,593.8 413.8,589.6 409.1,590.5 403.1,592.2 402.5,592.4" fill="#2400d8" stroke="#2400d8" stroke-width="0.9"/>
<polygon points="464.5,637.8 463.9,638.0 466.2,637.3 468.1,636.7 469.7,636.3 471.2,636.1 472.6,635.9 474.1,635.9 476.0,636.0 478.0,636.2 480.1,636.5 482.3,636.9 484.3,637.4 486.4,638.1 486.2,638.1 496.2,614.1 494.8,613.5 491.6,612.5 488.1,611.5 484.6,610.8 481.1,610.3 477.7,610.0 474.3,609.9 470.9,610.0 467.6,610.3 464.5,610.9 461.5,611.6 458.7,612.4 456.1,613.2 455.4,613.5" fill="#2600e8" stroke="#2600e8" stroke-width="0.9"/>
<polygon points="486.1,638.0 485.8,637.9 487.8,638.7 489.7,639.7 491.8,640.9 494.0,642.2 496.1,643.6 498.2,645.0 500.0,646.2 501.3,647.1 502.2,647.8 502.8,648.3 503.5,648.9 504.0,649.5 523.7,632.6 522.4,631.1 520.4,629.2 518.4,627.4 516.4,625.9 514.5,624.6 512.6,623.4 510.5,621.9 508.0,620.3 505.1,618.6 502.0,616.8 498.7,615.1 495.4,613.7 494.1,613.3" fill="#2600e8" stroke="#2600e8" stroke-width="0.9"/>
<polygon points="503.2,648.6 504.1,649.6 504.8,650.7 505.7,652.1 506.7,653.9 507.9,656.1 509.2,658.6 510.5,661.0 511.7,663.4 513.0,666.1 513.4,667.1 537.0,656.0 536.5,655.0 535.0,651.9 533.5,649.0 532.1,646.4 530.9,644.0 529.6,641.5 528.1,638.9 526.4,636.2 524.5,633.6 522.9,631.7" fill="#3838f0" stroke="#3838f0" stroke-width="0.9"/>
<polygon points="513.0,666.0 513.0,666.0 514.4,669.1 516.1,672.5 518.1,676.1 520.4,679.6 522.8,682.7 525.4,685.9 528.2,689.1 531.4,692.3 535.0,695.2 537.5,696.7 550.5,674.2 550.2,674.1 548.9,673.0 547.1,671.3 545.2,669.1 543.3,666.7 541.6,664.4 540.3,662.5 539.1,660.3 537.8,657.8 536.5,655.0 536.4,654.9" fill="#3c40f0" stroke="#3c40f0" stroke-width="0.9"/>
<polygon points="536.5,696.1 539.9,697.9 544.8,699.5 549.8,699.9 554.4,699.5 558.5,698.4 562.1,697.0 565.6,695.2 568.5,693.3 569.8,692.3 552.9,672.5 554.0,671.7 552.4,672.8 551.4,673.3 550.3,673.7 549.7,673.9 549.6,673.9 549.9,674.0 550.1,674.1 549.4,673.6" fill="#4a64f0" stroke="#4a64f0" stroke-width="0.9"/>
<polygon points="567.5,693.9 569.4,692.7 572.4,690.1 575.2,687.3 577.8,684.4 580.1,681.6 582.3,678.9 584.4,676.1 586.3,673.2 588.0,670.4 589.6,667.5 591.1,664.8 591.8,663.4 568.7,651.5 568.1,652.6 566.8,655.1 565.6,657.3 564.4,659.3 563.1,661.2 561.7,663.1 560.0,665.2 558.2,667.4 556.4,669.3 554.8,671.0 553.2,672.3 553.2,672.3" fill="#5888f0" stroke="#5888f0" stroke-width="0.9"/>
<polygon points="591.2,664.5 592.6,661.8 594.2,658.5 595.9,654.9 597.5,651.2 598.9,647.9 600.1,645.1 600.9,643.1 589.0,638.0 589.0,638.0 577.1,632.9 576.2,634.9 575.0,637.7 573.6,640.9 572.2,644.3 570.7,647.4 569.4,650.2 568.2,652.5" fill="#78d8f8" stroke="#78d8f8" stroke-width="0.9"/>
<polygon points="590.4,581.9 585.6,587.0 624.7,623.6 625.9,624.6 634.9,613.9 634.3,613.4 595.2,576.8 590.4,581.9" fill="#5078f0" stroke="#5078f0" stroke-width="0.9"/>
<polygon points="624.7,623.6 625.0,623.9 632.1,629.6 645.6,634.9 644.7,634.5 652.7,623.0 650.8,621.9 638.7,617.2 634.0,613.1 634.3,613.4" fill="#68b0f0" stroke="#68b0f0" stroke-width="0.9"/>
<polygon points="645.1,634.7 644.3,634.2 650.0,638.0 651.4,641.3 652.2,647.0 659.1,646.0 659.1,646.0 666.0,645.0 664.8,637.1 660.4,628.6 652.1,622.6 650.2,621.7" fill="#80e8f8" stroke="#80e8f8" stroke-width="0.9"/>
<polygon points="822.0,65.0 807.0,65.7 808.6,100.6 812.9,136.0 830.3,161.5 846.0,183.0 846.7,189.4 844.6,196.5 845.0,195.2 873.1,205.6 873.8,203.5 876.7,189.6 872.6,169.0 854.7,144.1 841.1,126.0 838.6,98.4 837.0,64.3 822.0,65.0" fill="#e8f830" stroke="#e8f830" stroke-width="0.9"/>
<polygon points="844.8,195.8 845.1,194.9 838.9,212.1 837.6,229.0 844.2,247.9 854.6,261.1 857.7,270.2 857.6,289.8 857.2,294.5 887.2,296.7 887.6,290.2 887.5,266.2 880.8,246.5 870.4,233.1 867.2,224.4 867.9,219.5 873.3,205.1 874.0,202.7" fill="#e8f830" stroke="#e8f830" stroke-width="0.9"/>
<polygon points="857.3,293.3 856.8,305.1 852.4,312.1 845.3,320.7 840.0,327.7 864.0,345.7 868.7,339.3 877.2,329.1 885.6,313.3 887.2,295.5" fill="#c0f840" stroke="#c0f840" stroke-width="0.9"/>
<polygon points="840.7,326.8 835.8,333.2 828.1,344.3 822.6,355.3 836.0,362.0 836.0,362.0 849.4,368.7 853.9,359.7 860.2,350.8 864.7,344.8" fill="#98f890" stroke="#98f890" stroke-width="0.9"/>
<polygon points="695.6,329.3 693.3,335.9 731.1,349.2 732.9,349.6 735.1,335.8 735.7,336.0 697.9,322.7 695.6,329.3" fill="#c0f840" stroke="#c0f840" stroke-width="0.9"/>
<polygon points="730.5,349.0 732.2,349.5 745.7,351.5 758.4,347.6 768.1,339.6 759.0,328.9 751.6,335.4 744.9,337.5 734.6,335.7 735.2,335.8" fill="#c0f840" stroke="#c0f840" stroke-width="0.9"/>
<polygon points="767.2,340.3 772.7,335.5 783.8,329.6 781.4,329.3 782.3,331.9 781.6,329.6 795.6,329.6 794.9,326.1 790.6,318.7 779.4,316.4 765.3,323.7 758.1,329.7" fill="#98f890" stroke="#98f890" stroke-width="0.9"/>
<polygon points="782.1,331.7 781.6,329.3 782.1,336.6 788.8,347.4 801.8,361.2 804.4,363.2 812.4,351.7 811.8,351.4 799.6,338.6 795.1,331.4 795.6,328.7 794.5,325.2" fill="#88f8d0" stroke="#88f8d0" stroke-width="0.9"/>
<polygon points="803.4,362.5 811.0,367.7 815.0,362.0 815.0,362.0 819.0,356.3 811.4,351.0" fill="#88f0f8" stroke="#88f0f8" stroke-width="0.9"/>
<polygon points="800.0,346.0 830.7,349.7 824.7,368.5 800.0,362.0" fill="#88f0f8" stroke="#88f0f8" stroke-width="0.9"/>
<polygon points="830.7,349.7 851.4,358.1 849.5,371.4 824.7,368.5" fill="#88f8e8" stroke="#88f8e8" stroke-width="0.9"/>
<polygon points="800.0,362.0 824.7,368.5 843.5,372.4 841.5,395.0 800.0,395.0" fill="#80e8f8" stroke="#80e8f8" stroke-width="0.9"/>
<polygon points="848.5,358.6 856.0,355.0 863.0,377.0 842.5,373.9" fill="#78d8f8" stroke="#78d8f8" stroke-width="0.9"/>
<polygon points="842.5,373.9 859.3,376.4 858.4,394.2 840.6,392.2" fill="#68b0f0" stroke="#68b0f0" stroke-width="0.9"/>
<polygon points="856.0,375.6 879.4,373.8 877.6,398.1 856.0,393.7" fill="#4a64f0" stroke="#4a64f0" stroke-width="0.9"/>
<polygon points="877.6,373.8 908.8,377.3 908.8,396.3 889.8,400.7 875.1,396.3" fill="#3c40f0" stroke="#3c40f0" stroke-width="0.9"/>
<polygon points="825.7,392.9 856.0,392.9 855.2,410.2 825.7,413.6" fill="#4050f0" stroke="#4050f0" stroke-width="0.9"/>
<polygon points="856.0,393.7 889.8,400.7 888.0,413.6 855.2,409.3" fill="#2600e8" stroke="#2600e8" stroke-width="0.9"/>
<polygon points="889.8,400.7 908.8,394.6 910.5,415.4 888.0,413.6" fill="#3c40f0" stroke="#3c40f0" stroke-width="0.9"/>
<polygon points="825.7,413.6 855.2,410.2 854.3,425.7 825.7,426.6" fill="#4050f0" stroke="#4050f0" stroke-width="0.9"/>
<polygon points="855.2,410.2 888.0,413.6 884.6,429.2 854.3,425.7" fill="#3c40f0" stroke="#3c40f0" stroke-width="0.9"/>
<polygon points="888.0,413.6 910.5,415.4 915.7,429.2 884.6,429.2" fill="#4050f0" stroke="#4050f0" stroke-width="0.9"/>
<polygon points="811.9,429.2 827.5,426.6 829.2,444.8 817.1,448.2" fill="#4050f0" stroke="#4050f0" stroke-width="0.9"/>
<polygon points="827.5,426.6 869.0,427.5 868.1,443.0 829.2,444.8" fill="#4050f0" stroke="#4050f0" stroke-width="0.9"/>
<polygon points="869.0,427.5 881.1,429.2 882.0,444.8 868.1,443.0" fill="#4050f0" stroke="#4050f0" stroke-width="0.9"/>
<polygon points="881.1,429.2 901.0,434.4 898.4,448.2 882.0,444.8" fill="#2a08f5" stroke="#2a08f5" stroke-width="0.9"/>
<polygon points="901.0,434.4 915.7,429.2 931.3,450.0 898.4,448.2" fill="#4050f0" stroke="#4050f0" stroke-width="0.9"/>
<polygon points="829.2,444.8 841.3,442.2 843.0,460.3 830.9,462.1" fill="#3020f0" stroke="#3020f0" stroke-width="0.9"/>
<polygon points="841.3,442.2 854.3,442.2 855.2,460.3 843.0,460.3" fill="#2600e8" stroke="#2600e8" stroke-width="0.9"/>
<polygon points="854.3,442.2 869.0,443.0 868.1,460.3 855.2,460.3" fill="#3c40f0" stroke="#3c40f0" stroke-width="0.9"/>
<polygon points="868.1,443.0 882.0,444.8 881.1,462.1 868.1,460.3" fill="#4050f0" stroke="#4050f0" stroke-width="0.9"/>
<polygon points="882.0,444.8 898.4,448.2 894.9,462.1 881.1,462.1" fill="#4050f0" stroke="#4050f0" stroke-width="0.9"/>
<polygon points="830.9,462.1 843.0,460.3 844.8,484.6 829.2,484.6" fill="#3020f0" stroke="#3020f0" stroke-width="0.9"/>
<polygon points="843.0,460.3 855.2,460.3 854.3,484.6 844.8,484.6" fill="#2600e8" stroke="#2600e8" stroke-width="0.9"/>
<polygon points="855.2,460.3 868.1,460.3 867.3,484.6 854.3,484.6" fill="#4050f0" stroke="#4050f0" stroke-width="0.9"/>
<polygon points="868.1,460.3 879.4,462.1 881.1,484.6 867.3,484.6" fill="#4050f0" stroke="#4050f0" stroke-width="0.9"/>
<polygon points="879.4,462.1 903.6,462.1 907.1,481.1 881.1,484.6" fill="#4a64f0" stroke="#4a64f0" stroke-width="0.9"/>
<polygon points="903.6,441.3 926.1,446.5 920.9,481.1 907.1,481.1" fill="#4a64f0" stroke="#4a64f0" stroke-width="0.9"/>
<polygon points="811.9,434.4 827.5,426.6 829.2,444.8 817.1,448.2" fill="#4050f0" stroke="#4050f0" stroke-width="0.9"/>
<polygon points="798.1,441.3 811.9,434.4 817.1,448.2 805.0,455.2" fill="#3c40f0" stroke="#3c40f0" stroke-width="0.9"/>
<polygon points="782.5,454.3 798.1,441.3 806.7,456.9 794.6,465.5" fill="#2600e8" stroke="#2600e8" stroke-width="0.9"/>
<polygon points="794.6,465.5 806.7,456.9 817.1,469.0 806.7,479.4" fill="#2200c0" stroke="#2200c0" stroke-width="0.9"/>
<polygon points="806.7,456.9 817.1,448.2 827.5,463.8 817.1,469.0" fill="#2800f0" stroke="#2800f0" stroke-width="0.9"/>
<polygon points="770.4,463.8 782.5,454.3 794.6,465.5 787.7,474.2" fill="#3c40f0" stroke="#3c40f0" stroke-width="0.9"/>
<polygon points="763.5,481.1 770.4,463.8 787.7,474.2 782.5,484.6" fill="#4050f0" stroke="#4050f0" stroke-width="0.9"/>
<polygon points="787.7,474.2 794.6,465.5 808.4,479.4 803.3,488.0" fill="#3020f0" stroke="#3020f0" stroke-width="0.9"/>
<polygon points="763.5,501.9 763.5,481.1 782.5,484.6 780.8,501.9" fill="#5078f0" stroke="#5078f0" stroke-width="0.9"/>
<polygon points="780.8,501.9 782.5,484.6 803.3,488.0 805.0,501.9" fill="#4a64f0" stroke="#4a64f0" stroke-width="0.9"/>
<polygon points="918.0,460.0 911.8,473.7 935.0,484.1 947.8,486.0 951.2,456.2 945.0,455.9 924.2,446.3 918.0,460.0" fill="#5078f0" stroke="#5078f0" stroke-width="0.9"/>
<polygon points="946.6,485.9 954.3,486.7 976.2,488.4 978.4,458.5 956.9,456.9 950.0,456.1" fill="#68b0f0" stroke="#68b0f0" stroke-width="0.9"/>
<polygon points="975.0,488.3 981.1,488.1 1006.2,482.0 999.0,452.8 974.5,458.9 977.3,458.4" fill="#68b0f0" stroke="#68b0f0" stroke-width="0.9"/>
<polygon points="1005.0,482.3 1010.7,480.2 1037.1,463.8 1041.0,460.6 1021.4,438.0 1020.9,438.6 995.3,454.4 997.8,453.1" fill="#88f0f8" stroke="#88f0f8" stroke-width="0.9"/>
<polygon points="1040.1,461.4 1067.7,437.5 1071.1,434.1 1049.8,413.0 1047.9,414.9 1020.4,438.8" fill="#88f0f8" stroke="#88f0f8" stroke-width="0.9"/>
<polygon points="1070.2,435.0 1099.9,405.0 1078.6,383.9 1048.9,413.9" fill="#88f8e8" stroke="#88f8e8" stroke-width="0.9"/>
<polygon points="1099.1,405.8 1108.0,396.8 1149.8,349.4 1153.8,344.2 1142.0,335.0 1142.0,335.0 1130.2,325.8 1127.2,329.6 1085.6,376.8 1077.8,384.7" fill="#88f8e8" stroke="#88f8e8" stroke-width="0.9"/>
<polygon points="760.0,500.0 810.0,500.0 810.0,521.0 760.0,521.0" fill="#68b0f0" stroke="#68b0f0" stroke-width="0.9"/>
<polygon points="760.0,521.0 786.0,521.0 788.0,539.4 760.0,539.4" fill="#70c0f8" stroke="#70c0f8" stroke-width="0.9"/>
<polygon points="786.0,521.0 810.0,521.0 812.0,539.4 788.0,539.4" fill="#70c0f8" stroke="#70c0f8" stroke-width="0.9"/>
<polygon points="760.0,539.4 788.0,539.4 792.0,558.0 760.0,558.0" fill="#78d8f8" stroke="#78d8f8" stroke-width="0.9"/>
<polygon points="788.0,539.4 812.0,539.4 818.0,558.0 792.0,558.0" fill="#78d8f8" stroke="#78d8f8" stroke-width="0.9"/>
<polygon points="760.0,558.0 830.0,558.0 850.0,630.0 760.0,630.0" fill="#88f0f8" stroke="#88f0f8" stroke-width="0.9"/>
<polygon points="745.0,645.0 776.7,643.8 782.7,660.8 761.2,667.5 745.0,672.0" fill="#90f8c0" stroke="#90f8c0" stroke-width="0.9"/>
<polygon points="745.0,672.0 761.2,667.5 766.4,687.6 772.0,705.0 745.0,700.0" fill="#a0f880" stroke="#a0f880" stroke-width="0.9"/>
<polygon points="783.2,621.4 809.7,612.5 814.6,628.6 797.7,636.6 780.0,643.1 775.2,643.1 775.2,622.2" fill="#5078f0" stroke="#5078f0" stroke-width="0.9"/>
<polygon points="780.0,643.1 797.7,636.6 804.1,651.9 782.4,660.7 776.8,660.7" fill="#2a08f5" stroke="#2a08f5" stroke-width="0.9"/>
<polygon points="797.7,636.6 814.6,628.6 822.6,642.3 804.1,651.9" fill="#4a64f0" stroke="#4a64f0" stroke-width="0.9"/>
<polygon points="814.6,628.6 833.1,620.5 841.9,636.6 822.6,642.3" fill="#88f0f8" stroke="#88f0f8" stroke-width="0.9"/>
<polygon points="804.1,651.9 822.6,642.3 828.2,659.1 810.5,668.8" fill="#88f8d0" stroke="#88f8d0" stroke-width="0.9"/>
<polygon points="822.6,642.3 841.9,636.6 849.1,652.7 828.2,659.1" fill="#88f8d0" stroke="#88f8d0" stroke-width="0.9"/>
<polygon points="810.5,668.8 828.2,659.1 836.3,673.6 820.2,683.2" fill="#90f8c0" stroke="#90f8c0" stroke-width="0.9"/>
<polygon points="828.2,659.1 849.1,652.7 857.2,667.2 836.3,673.6" fill="#90f8b0" stroke="#90f8b0" stroke-width="0.9"/>
<polygon points="782.4,660.7 804.1,651.9 810.5,668.8 789.6,677.6" fill="#60a0f0" stroke="#60a0f0" stroke-width="0.9"/>
<polygon points="789.6,677.6 810.5,668.8 820.2,683.2 799.3,697.7" fill="#5078f0" stroke="#5078f0" stroke-width="0.9"/>
<polygon points="761.2,667.5 782.4,660.7 789.6,677.6 766.4,687.6" fill="#5078f0" stroke="#5078f0" stroke-width="0.9"/>
<polygon points="766.4,687.6 789.6,677.6 799.3,697.7 783.0,709.0 770.0,700.0" fill="#68b0f0" stroke="#68b0f0" stroke-width="0.9"/>
<polygon points="840.0,770.0 905.0,712.0 960.0,760.0 895.0,805.0" fill="#90f8b0" stroke="#90f8b0" stroke-width="0.9"/>
<polygon points="838.0,690.0 866.0,680.0 876.0,708.0 848.0,718.0" fill="#b0f860" stroke="#b0f860" stroke-width="0.9"/>
<polygon points="580.0,628.0 603.4,628.0 603.4,659.6 580.0,659.6" fill="#88f0f8" stroke="#88f0f8" stroke-width="0.9"/>
<polygon points="580.0,659.6 603.4,659.6 603.4,700.0 580.0,700.0" fill="#88f0f8" stroke="#88f0f8" stroke-width="0.9"/>
<polygon points="603.4,634.0 621.9,634.0 621.9,659.6 603.4,659.6" fill="#88f8d0" stroke="#88f8d0" stroke-width="0.9"/>
<polygon points="603.4,659.6 621.9,659.6 621.9,700.0 603.4,700.0" fill="#88f8d0" stroke="#88f8d0" stroke-width="0.9"/>
<polygon points="621.9,640.0 641.7,640.0 641.7,659.6 621.9,659.6" fill="#88f8d0" stroke="#88f8d0" stroke-width="0.9"/>
<polygon points="621.9,659.6 641.7,659.6 641.7,700.0 621.9,700.0" fill="#90f8c0" stroke="#90f8c0" stroke-width="0.9"/>
<polygon points="641.7,640.0 661.5,640.0 661.5,659.6 641.7,659.6" fill="#98f890" stroke="#98f890" stroke-width="0.9"/>
<polygon points="641.7,659.6 661.5,659.6 661.5,700.0 641.7,700.0" fill="#98f890" stroke="#98f890" stroke-width="0.9"/>
<polygon points="661.5,640.0 681.3,640.0 681.3,659.6 661.5,659.6" fill="#a8f870" stroke="#a8f870" stroke-width="0.9"/>
<polygon points="661.5,659.6 681.3,659.6 681.3,700.0 661.5,700.0" fill="#a8f870" stroke="#a8f870" stroke-width="0.9"/>
<polygon points="681.3,640.0 699.8,640.0 699.8,659.6 681.3,659.6" fill="#b0f860" stroke="#b0f860" stroke-width="0.9"/>
<polygon points="681.3,659.6 699.8,659.6 699.8,700.0 681.3,700.0" fill="#b0f860" stroke="#b0f860" stroke-width="0.9"/>
<polygon points="699.8,640.0 723.3,640.0 723.3,659.6 699.8,659.6" fill="#b0f860" stroke="#b0f860" stroke-width="0.9"/>
<polygon points="699.8,659.6 723.3,659.6 723.3,700.0 699.8,700.0" fill="#b0f860" stroke="#b0f860" stroke-width="0.9"/>
<polygon points="723.3,640.0 746.0,640.0 746.0,659.6 723.3,659.6" fill="#b8f850" stroke="#b8f850" stroke-width="0.9"/>
<polygon points="723.3,659.6 746.0,659.6 746.0,700.0 723.3,700.0" fill="#b8f850" stroke="#b8f850" stroke-width="0.9"/>
<polygon points="575.0,674.4 603.4,674.4 602.0,692.0 575.0,692.0" fill="#a0f880" stroke="#a0f880" stroke-width="0.9"/>
<polygon points="603.4,674.4 621.9,674.4 619.5,692.0 602.0,692.0" fill="#a0f880" stroke="#a0f880" stroke-width="0.9"/>
<polygon points="621.9,674.4 641.7,674.4 638.8,692.0 619.5,692.0" fill="#90f8b0" stroke="#90f8b0" stroke-width="0.9"/>
<polygon points="641.7,674.4 661.5,674.4 657.3,692.0 638.8,692.0" fill="#2a08f5" stroke="#2a08f5" stroke-width="0.9"/>
<polygon points="661.5,674.4 690.0,674.4 690.0,692.0 657.3,692.0" fill="#a0f880" stroke="#a0f880" stroke-width="0.9"/>
<polygon points="575.0,692.0 602.0,692.0 600.0,710.0 575.0,710.0" fill="#b0f860" stroke="#b0f860" stroke-width="0.9"/>
<polygon points="602.0,692.0 619.5,692.0 618.5,710.0 600.0,710.0" fill="#b0f860" stroke="#b0f860" stroke-width="0.9"/>
<polygon points="619.5,692.0 638.8,692.0 637.0,710.0 618.5,710.0" fill="#88f0f8" stroke="#88f0f8" stroke-width="0.9"/>
<polygon points="638.8,692.0 657.3,692.0 655.0,710.0 637.0,710.0" fill="#68b0f0" stroke="#68b0f0" stroke-width="0.9"/>
<polygon points="657.3,692.0 690.0,692.0 690.0,710.0 655.0,710.0" fill="#b0f860" stroke="#b0f860" stroke-width="0.9"/>
<polygon points="575.0,710.0 600.0,710.0 598.0,729.0 575.0,729.0" fill="#c8f838" stroke="#c8f838" stroke-width="0.9"/>
<polygon points="600.0,710.0 618.5,710.0 617.0,729.0 598.0,729.0" fill="#b8f850" stroke="#b8f850" stroke-width="0.9"/>
<polygon points="618.5,710.0 637.0,710.0 635.0,729.0 617.0,729.0" fill="#4a64f0" stroke="#4a64f0" stroke-width="0.9"/>
<polygon points="637.0,710.0 655.0,710.0 652.0,729.0 635.0,729.0" fill="#88f8d0" stroke="#88f8d0" stroke-width="0.9"/>
<polygon points="655.0,710.0 690.0,710.0 690.0,729.0 652.0,729.0" fill="#b8f850" stroke="#b8f850" stroke-width="0.9"/>
<polygon points="575.0,729.0 598.0,729.0 596.0,748.0 575.0,748.0" fill="#b8f850" stroke="#b8f850" stroke-width="0.9"/>
<polygon points="598.0,729.0 617.0,729.0 615.5,748.0 596.0,748.0" fill="#98f890" stroke="#98f890" stroke-width="0.9"/>
<polygon points="617.0,729.0 635.0,729.0 633.0,748.0 615.5,748.0" fill="#68b0f0" stroke="#68b0f0" stroke-width="0.9"/>
<polygon points="635.0,729.0 652.0,729.0 649.0,748.0 633.0,748.0" fill="#b0f860" stroke="#b0f860" stroke-width="0.9"/>
<polygon points="652.0,729.0 690.0,729.0 690.0,748.0 649.0,748.0" fill="#b8f850" stroke="#b8f850" stroke-width="0.9"/>
<polygon points="575.0,748.0 596.0,748.0 596.0,767.5 575.0,767.5" fill="#78d8f8" stroke="#78d8f8" stroke-width="0.9"/>
<polygon points="596.0,748.0 615.5,748.0 614.3,767.5 596.0,767.5" fill="#78d8f8" stroke="#78d8f8" stroke-width="0.9"/>
<polygon points="615.5,748.0 633.0,748.0 630.6,767.5 614.3,767.5" fill="#90f8b0" stroke="#90f8b0" stroke-width="0.9"/>
<polygon points="633.0,748.0 649.0,748.0 644.7,767.5 630.6,767.5" fill="#b8f850" stroke="#b8f850" stroke-width="0.9"/>
<polygon points="649.0,748.0 690.0,748.0 690.0,767.5 644.7,767.5" fill="#b8f850" stroke="#b8f850" stroke-width="0.9"/>
<polygon points="575.0,767.5 596.0,767.5 596.0,795.0 575.0,795.0" fill="#c0f840" stroke="#c0f840" stroke-width="0.9"/>
<polygon points="596.0,767.5 614.3,767.5 612.0,795.0 596.0,795.0" fill="#c0f840" stroke="#c0f840" stroke-width="0.9"/>
<polygon points="614.3,767.5 630.6,767.5 628.0,795.0 612.0,795.0" fill="#c0f840" stroke="#c0f840" stroke-width="0.9"/>
<polygon points="630.6,767.5 644.7,767.5 640.0,795.0 628.0,795.0" fill="#c0f840" stroke="#c0f840" stroke-width="0.9"/>
<polygon points="644.7,767.5 690.0,767.5 690.0,795.0 640.0,795.0" fill="#c0f840" stroke="#c0f840" stroke-width="0.9"/>
</g></g>
<g transform="translate(2355.10,0)"><g clip-path="url(#riv)">
<polygon points="300.0,50.0 1170.0,50.0 1170.0,810.0 300.0,810.0" fill="#98f8a0" stroke="#98f8a0" stroke-width="0.9"/>
<polygon points="760.0,396.0 858.0,396.0 860.0,372.0 910.0,372.0 915.0,425.0 970.0,465.0 960.0,490.0 760.0,500.0" fill="#3838f0" stroke="#3838f0" stroke-width="0.9"/>
<polygon points="328.9,631.8 333.2,644.1 342.5,640.8 356.0,636.0 371.6,630.5 387.3,625.0 401.0,620.3 410.8,617.1 411.4,616.9 404.1,591.9 402.8,592.3 392.7,595.6 378.7,600.4 362.9,606.0 347.3,611.5 333.8,616.3 324.6,619.5 328.9,631.8" fill="#200898" stroke="#200898" stroke-width="0.9"/>
<polygon points="410.7,617.1 410.5,617.2 415.7,615.6 416.6,615.4 406.6,611.6 403.3,600.3 403.2,607.5 409.4,615.7 411.6,616.8 411.2,616.5 411.0,616.4 411.0,616.5 411.2,616.7 411.4,616.9 411.3,616.8 411.5,617.2 411.8,618.1 412.2,619.6 412.8,621.6 413.5,623.5 414.1,625.0 414.6,626.5 415.3,628.4 416.2,630.6 417.5,633.1 419.3,635.8 421.2,638.1 423.2,640.0 425.3,641.7 427.5,643.2 429.8,644.5 432.2,645.5 434.4,646.3 437.2,646.8 440.6,646.9 443.5,646.5 445.7,645.9 448.0,645.1 450.9,644.0 453.9,642.6 456.9,641.1 459.7,639.8 462.2,638.7 464.4,637.8 465.0,637.7 457.2,612.9 455.6,613.4 452.3,614.6 448.9,616.1 445.7,617.7 442.8,619.0 440.5,620.1 439.0,620.7 438.0,621.0 437.7,621.1 438.6,621.0 440.4,621.0 441.4,621.2 441.6,621.3 441.5,621.3 441.3,621.1 440.9,620.8 440.4,620.4 440.0,620.1 439.9,620.0 440.0,620.1 439.8,619.8 439.5,619.0 439.1,617.7 438.5,616.1 437.9,614.5 437.5,613.4 437.1,612.1 436.6,610.4 435.9,608.3 434.9,605.7 433.4,603.1 431.9,601.0 430.4,599.1 428.5,597.2 426.2,595.3 423.5,593.7 423.2,593.7 428.2,600.7 428.6,606.3 425.5,593.8 413.8,589.6 409.1,590.5 403.1,592.2 402.5,592.4" fill="#2200c0" stroke="#2200c0" stroke-width="0.9"/>
<polygon points="464.5,637.8 463.9,638.0 466.2,637.3 468.1,636.7 469.7,636.3 471.2,636.1 472.6,635.9 474.1,635.9 476.0,636.0 478.0,636.2 480.1,636.5 482.3,636.9 484.3,637.4 486.4,638.1 486.2,638.1 496.2,614.1 494.8,613.5 491.6,612.5 488.1,611.5 484.6,610.8 481.1,610.3 477.7,610.0 474.3,609.9 470.9,610.0 467.6,610.3 464.5,610.9 461.5,611.6 458.7,612.4 456.1,613.2 455.4,613.5" fill="#2600e8" stroke="#2600e8" stroke-width="0.9"/>
<polygon points="486.1,638.0 485.8,637.9 487.8,638.7 489.7,639.7 491.8,640.9 494.0,642.2 496.1,643.6 498.2,645.0 500.0,646.2 501.3,647.1 502.2,647.8 502.8,648.3 503.5,648.9 504.0,649.5 523.7,632.6 522.4,631.1 520.4,629.2 518.4,627.4 516.4,625.9 514.5,624.6 512.6,623.4 510.5,621.9 508.0,620.3 505.1,618.6 502.0,616.8 498.7,615.1 495.4,613.7 494.1,613.3" fill="#2600e8" stroke="#2600e8" stroke-width="0.9"/>
<polygon points="503.2,648.6 504.1,649.6 504.8,650.7 505.7,652.1 506.7,653.9 507.9,656.1 509.2,658.6 510.5,661.0 511.7,663.4 513.0,666.1 513.4,667.1 537.0,656.0 536.5,655.0 535.0,651.9 533.5,649.0 532.1,646.4 530.9,644.0 529.6,641.5 528.1,638.9 526.4,636.2 524.5,633.6 522.9,631.7" fill="#2a00f5" stroke="#2a00f5" stroke-width="0.9"/>
<polygon points="513.0,666.0 513.0,666.0 514.4,669.1 516.1,672.5 518.1,676.1 520.4,679.6 522.8,682.7 525.4,685.9 528.2,689.1 531.4,692.3 535.0,695.2 537.5,696.7 550.5,674.2 550.2,674.1 548.9,673.0 547.1,671.3 545.2,669.1 543.3,666.7 541.6,664.4 540.3,662.5 539.1,660.3 537.8,657.8 536.5,655.0 536.4,654.9" fill="#3838f0" stroke="#3838f0" stroke-width="0.9"/>
<polygon points="536.5,696.1 539.9,697.9 544.8,699.5 549.8,699.9 554.4,699.5 558.5,698.4 562.1,697.0 565.6,695.2 568.5,693.3 569.8,692.3 552.9,672.5 554.0,671.7 552.4,672.8 551.4,673.3 550.3,673.7 549.7,673.9 549.6,673.9 549.9,674.0 550.1,674.1 549.4,673.6" fill="#4050f0" stroke="#4050f0" stroke-width="0.9"/>
<polygon points="567.5,693.9 569.4,692.7 572.4,690.1 575.2,687.3 577.8,684.4 580.1,681.6 582.3,678.9 584.4,676.1 586.3,673.2 588.0,670.4 589.6,667.5 591.1,664.8 591.8,663.4 568.7,651.5 568.1,652.6 566.8,655.1 565.6,657.3 564.4,659.3 563.1,661.2 561.7,663.1 560.0,665.2 558.2,667.4 556.4,669.3 554.8,671.0 553.2,672.3 553.2,672.3" fill="#5888f0" stroke="#5888f0" stroke-width="0.9"/>
<polygon points="591.2,664.5 592.6,661.8 594.2,658.5 595.9,654.9 597.5,651.2 598.9,647.9 600.1,645.1 600.9,643.1 589.0,638.0 589.0,638.0 577.1,632.9 576.2,634.9 575.0,637.7 573.6,640.9 572.2,644.3 570.7,647.4 569.4,650.2 568.2,652.5" fill="#68b0f0" stroke="#68b0f0" stroke-width="0.9"/>
<polygon points="590.4,581.9 585.6,587.0 624.7,623.6 625.9,624.6 634.9,613.9 634.3,613.4 595.2,576.8 590.4,581.9" fill="#4a64f0" stroke="#4a64f0" stroke-width="0.9"/>
<polygon points="624.7,623.6 625.0,623.9 632.1,629.6 645.6,634.9 644.7,634.5 652.7,623.0 650.8,621.9 638.7,617.2 634.0,613.1 634.3,613.4" fill="#5078f0" stroke="#5078f0" stroke-width="0.9"/>
<polygon points="645.1,634.7 644.3,634.2 650.0,638.0 651.4,641.3 652.2,647.0 659.1,646.0 659.1,646.0 666.0,645.0 664.8,637.1 660.4,628.6 652.1,622.6 650.2,621.7" fill="#78d8f8" stroke="#78d8f8" stroke-width="0.9"/>
<polygon points="822.0,65.0 807.0,65.7 808.6,100.6 812.9,136.0 830.3,161.5 846.0,183.0 846.7,189.4 844.6,196.5 845.0,195.2 873.1,205.6 873.8,203.5 876.7,189.6 872.6,169.0 854.7,144.1 841.1,126.0 838.6,98.4 837.0,64.3 822.0,65.0" fill="#c0f840" stroke="#c0f840" stroke-width="0.9"/>
<polygon points="844.8,195.8 845.1,194.9 838.9,212.1 837.6,229.0 844.2,247.9 854.6,261.1 857.7,270.2 857.6,289.8 857.2,294.5 887.2,296.7 887.6,290.2 887.5,266.2 880.8,246.5 870.4,233.1 867.2,224.4 867.9,219.5 873.3,205.1 874.0,202.7" fill="#c0f840" stroke="#c0f840" stroke-width="0.9"/>
<polygon points="857.3,293.3 856.8,305.1 852.4,312.1 845.3,320.7 840.0,327.7 864.0,345.7 868.7,339.3 877.2,329.1 885.6,313.3 887.2,295.5" fill="#b0f860" stroke="#b0f860" stroke-width="0.9"/>
<polygon points="840.7,326.8 835.8,333.2 828.1,344.3 822.6,355.3 836.0,362.0 836.0,362.0 849.4,368.7 853.9,359.7 860.2,350.8 864.7,344.8" fill="#90f8c0" stroke="#90f8c0" stroke-width="0.9"/>
<polygon points="695.6,329.3 693.3,335.9 731.1,349.2 732.9,349.6 735.1,335.8 735.7,336.0 697.9,322.7 695.6,329.3" fill="#3838f0" stroke="#3838f0" stroke-width="0.9"/>
<polygon points="730.5,349.0 732.2,349.5 745.7,351.5 758.4,347.6 768.1,339.6 759.0,328.9 751.6,335.4 744.9,337.5 734.6,335.7 735.2,335.8" fill="#4050f0" stroke="#4050f0" stroke-width="0.9"/>
<polygon points="767.2,340.3 772.7,335.5 783.8,329.6 781.4,329.3 782.3,331.9 781.6,329.6 795.6,329.6 794.9,326.1 790.6,318.7 779.4,316.4 765.3,323.7 758.1,329.7" fill="#5078f0" stroke="#5078f0" stroke-width="0.9"/>
<polygon points="782.1,331.7 781.6,329.3 782.1,336.6 788.8,347.4 801.8,361.2 804.4,363.2 812.4,351.7 811.8,351.4 799.6,338.6 795.1,331.4 795.6,328.7 794.5,325.2" fill="#68b0f0" stroke="#68b0f0" stroke-width="0.9"/>
<polygon points="803.4,362.5 811.0,367.7 815.0,362.0 815.0,362.0 819.0,356.3 811.4,351.0" fill="#68b0f0" stroke="#68b0f0" stroke-width="0.9"/>
<polygon points="800.0,346.0 830.7,349.7 824.7,368.5 800.0,362.0" fill="#68b0f0" stroke="#68b0f0" stroke-width="0.9"/>
<polygon points="830.7,349.7 851.4,358.1 849.5,371.4 824.7,368.5" fill="#88f0f8" stroke="#88f0f8" stroke-width="0.9"/>
<polygon points="800.0,362.0 824.7,368.5 843.5,372.4 841.5,395.0 800.0,395.0" fill="#68b0f0" stroke="#68b0f0" stroke-width="0.9"/>
<polygon points="848.5,358.6 856.0,355.0 863.0,377.0 842.5,373.9" fill="#60a0f0" stroke="#60a0f0" stroke-width="0.9"/>
<polygon points="842.5,373.9 859.3,376.4 858.4,394.2 840.6,392.2" fill="#5078f0" stroke="#5078f0" stroke-width="0.9"/>
<polygon points="856.0,375.6 879.4,373.8 877.6,398.1 856.0,393.7" fill="#3c40f0" stroke="#3c40f0" stroke-width="0.9"/>
<polygon points="877.6,373.8 908.8,377.3 908.8,396.3 889.8,400.7 875.1,396.3" fill="#3838f0" stroke="#3838f0" stroke-width="0.9"/>
<polygon points="825.7,392.9 856.0,392.9 855.2,410.2 825.7,413.6" fill="#3838f0" stroke="#3838f0" stroke-width="0.9"/>
<polygon points="856.0,393.7 889.8,400.7 888.0,413.6 855.2,409.3" fill="#2600e8" stroke="#2600e8" stroke-width="0.9"/>
<polygon points="889.8,400.7 908.8,394.6 910.5,415.4 888.0,413.6" fill="#3838f0" stroke="#3838f0" stroke-width="0.9"/>
<polygon points="825.7,413.6 855.2,410.2 854.3,425.7 825.7,426.6" fill="#3020f0" stroke="#3020f0" stroke-width="0.9"/>
<polygon points="855.2,410.2 888.0,413.6 884.6,429.2 854.3,425.7" fill="#3020f0" stroke="#3020f0" stroke-width="0.9"/>
<polygon points="888.0,413.6 910.5,415.4 915.7,429.2 884.6,429.2" fill="#3838f0" stroke="#3838f0" stroke-width="0.9"/>
<polygon points="811.9,429.2 827.5,426.6 829.2,444.8 817.1,448.2" fill="#3838f0" stroke="#3838f0" stroke-width="0.9"/>
<polygon points="827.5,426.6 869.0,427.5 868.1,443.0 829.2,444.8" fill="#3020f0" stroke="#3020f0" stroke-width="0.9"/>
<polygon points="869.0,427.5 881.1,429.2 882.0,444.8 868.1,443.0" fill="#3c40f0" stroke="#3c40f0" stroke-width="0.9"/>
<polygon points="881.1,429.2 901.0,434.4 898.4,448.2 882.0,444.8" fill="#2800f0" stroke="#2800f0" stroke-width="0.9"/>
<polygon points="901.0,434.4 915.7,429.2 931.3,450.0 898.4,448.2" fill="#3838f0" stroke="#3838f0" stroke-width="0.9"/>
<polygon points="829.2,444.8 841.3,442.2 843.0,460.3 830.9,462.1" fill="#2a00f5" stroke="#2a00f5" stroke-width="0.9"/>
<polygon points="841.3,442.2 854.3,442.2 855.2,460.3 843.0,460.3" fill="#2400d8" stroke="#2400d8" stroke-width="0.9"/>
<polygon points="854.3,442.2 869.0,443.0 868.1,460.3 855.2,460.3" fill="#3020f0" stroke="#3020f0" stroke-width="0.9"/>
<polygon points="868.1,443.0 882.0,444.8 881.1,462.1 868.1,460.3" fill="#3838f0" stroke="#3838f0" stroke-width="0.9"/>
<polygon points="882.0,444.8 898.4,448.2 894.9,462.1 881.1,462.1" fill="#3838f0" stroke="#3838f0" stroke-width="0.9"/>
<polygon points="830.9,462.1 843.0,460.3 844.8,484.6 829.2,484.6" fill="#2a00f5" stroke="#2a00f5" stroke-width="0.9"/>
<polygon points="843.0,460.3 855.2,460.3 854.3,484.6 844.8,484.6" fill="#2600e8" stroke="#2600e8" stroke-width="0.9"/>
<polygon points="855.2,460.3 868.1,460.3 867.3,484.6 854.3,484.6" fill="#3020f0" stroke="#3020f0" stroke-width="0.9"/>
<polygon points="868.1,460.3 879.4,462.1 881.1,484.6 867.3,484.6" fill="#3c40f0" stroke="#3c40f0" stroke-width="0.9"/>
<polygon points="879.4,462.1 903.6,462.1 907.1,481.1 881.1,484.6" fill="#4050f0" stroke="#4050f0" stroke-width="0.9"/>
<polygon points="903.6,441.3 926.1,446.5 920.9,481.1 907.1,481.1" fill="#4050f0" stroke="#4050f0" stroke-width="0.9"/>
<polygon points="811.9,434.4 827.5,426.6 829.2,444.8 817.1,448.2" fill="#3838f0" stroke="#3838f0" stroke-width="0.9"/>
<polygon points="798.1,441.3 811.9,434.4 817.1,448.2 805.0,455.2" fill="#3838f0" stroke="#3838f0" stroke-width="0.9"/>
<polygon points="782.5,454.3 798.1,441.3 806.7,456.9 794.6,465.5" fill="#2600e8" stroke="#2600e8" stroke-width="0.9"/>
<polygon points="794.6,465.5 806.7,456.9 817.1,469.0 806.7,479.4" fill="#2008a8" stroke="#2008a8" stroke-width="0.9"/>
<polygon points="806.7,456.9 817.1,448.2 827.5,463.8 817.1,469.0" fill="#2800f0" stroke="#2800f0" stroke-width="0.9"/>
<polygon points="770.4,463.8 782.5,454.3 794.6,465.5 787.7,474.2" fill="#3838f0" stroke="#3838f0" stroke-width="0.9"/>
<polygon points="763.5,481.1 770.4,463.8 787.7,474.2 782.5,484.6" fill="#3c40f0" stroke="#3c40f0" stroke-width="0.9"/>
<polygon points="787.7,474.2 794.6,465.5 808.4,479.4 803.3,488.0" fill="#2a08f5" stroke="#2a08f5" stroke-width="0.9"/>
<polygon points="763.5,501.9 763.5,481.1 782.5,484.6 780.8,501.9" fill="#4a64f0" stroke="#4a64f0" stroke-width="0.9"/>
<polygon points="780.8,501.9 782.5,484.6 803.3,488.0 805.0,501.9" fill="#4050f0" stroke="#4050f0" stroke-width="0.9"/>
<polygon points="918.0,460.0 911.8,473.7 935.0,484.1 947.8,486.0 951.2,456.2 945.0,455.9 924.2,446.3 918.0,460.0" fill="#4a64f0" stroke="#4a64f0" stroke-width="0.9"/>
<polygon points="946.6,485.9 954.3,486.7 976.2,488.4 978.4,458.5 956.9,456.9 950.0,456.1" fill="#5078f0" stroke="#5078f0" stroke-width="0.9"/>
<polygon points="975.0,488.3 981.1,488.1 1006.2,482.0 999.0,452.8 974.5,458.9 977.3,458.4" fill="#5078f0" stroke="#5078f0" stroke-width="0.9"/>
<polygon points="1005.0,482.3 1010.7,480.2 1037.1,463.8 1041.0,460.6 1021.4,438.0 1020.9,438.6 995.3,454.4 997.8,453.1" fill="#60a0f0" stroke="#60a0f0" stroke-width="0.9"/>
<polygon points="1040.1,461.4 1067.7,437.5 1071.1,434.1 1049.8,413.0 1047.9,414.9 1020.4,438.8" fill="#60a0f0" stroke="#60a0f0" stroke-width="0.9"/>
<polygon points="1070.2,435.0 1099.9,405.0 1078.6,383.9 1048.9,413.9" fill="#60a0f0" stroke="#60a0f0" stroke-width="0.9"/>
<polygon points="1099.1,405.8 1108.0,396.8 1149.8,349.4 1153.8,344.2 1142.0,335.0 1142.0,335.0 1130.2,325.8 1127.2,329.6 1085.6,376.8 1077.8,384.7" fill="#60a0f0" stroke="#60a0f0" stroke-width="0.9"/>
<polygon points="760.0,500.0 810.0,500.0 810.0,521.0 760.0,521.0" fill="#5078f0" stroke="#5078f0" stroke-width="0.9"/>
<polygon points="760.0,521.0 786.0,521.0 788.0,539.4 760.0,539.4" fill="#60a0f0" stroke="#60a0f0" stroke-width="0.9"/>
<polygon points="786.0,521.0 810.0,521.0 812.0,539.4 788.0,539.4" fill="#60a0f0" stroke="#60a0f0" stroke-width="0.9"/>
<polygon points="760.0,539.4 788.0,539.4 792.0,558.0 760.0,558.0" fill="#70c0f8" stroke="#70c0f8" stroke-width="0.9"/>
<polygon points="788.0,539.4 812.0,539.4 818.0,558.0 792.0,558.0" fill="#70c0f8" stroke="#70c0f8" stroke-width="0.9"/>
<polygon points="760.0,558.0 830.0,558.0 850.0,630.0 760.0,630.0" fill="#70c0f8" stroke="#70c0f8" stroke-width="0.9"/>
<polygon points="745.0,645.0 776.7,643.8 782.7,660.8 761.2,667.5 745.0,672.0" fill="#88f8d0" stroke="#88f8d0" stroke-width="0.9"/>
<polygon points="745.0,672.0 761.2,667.5 766.4,687.6 772.0,705.0 745.0,700.0" fill="#98f890" stroke="#98f890" stroke-width="0.9"/>
<polygon points="783.2,621.4 809.7,612.5 814.6,628.6 797.7,636.6 780.0,643.1 775.2,643.1 775.2,622.2" fill="#5078f0" stroke="#5078f0" stroke-width="0.9"/>
<polygon points="780.0,643.1 797.7,636.6 804.1,651.9 782.4,660.7 776.8,660.7" fill="#2800f0" stroke="#2800f0" stroke-width="0.9"/>
<polygon points="797.7,636.6 814.6,628.6 822.6,642.3 804.1,651.9" fill="#4a64f0" stroke="#4a64f0" stroke-width="0.9"/>
<polygon points="814.6,628.6 833.1,620.5 841.9,636.6 822.6,642.3" fill="#88f0f8" stroke="#88f0f8" stroke-width="0.9"/>
<polygon points="804.1,651.9 822.6,642.3 828.2,659.1 810.5,668.8" fill="#88f0f8" stroke="#88f0f8" stroke-width="0.9"/>
<polygon points="822.6,642.3 841.9,636.6 849.1,652.7 828.2,659.1" fill="#88f8d0" stroke="#88f8d0" stroke-width="0.9"/>
<polygon points="810.5,668.8 828.2,659.1 836.3,673.6 820.2,683.2" fill="#90f8c0" stroke="#90f8c0" stroke-width="0.9"/>
<polygon points="828.2,659.1 849.1,652.7 857.2,667.2 836.3,673.6" fill="#90f8c0" stroke="#90f8c0" stroke-width="0.9"/>
<polygon points="782.4,660.7 804.1,651.9 810.5,668.8 789.6,677.6" fill="#5078f0" stroke="#5078f0" stroke-width="0.9"/>
<polygon points="789.6,677.6 810.5,668.8 820.2,683.2 799.3,697.7" fill="#4a64f0" stroke="#4a64f0" stroke-width="0.9"/>
<polygon points="761.2,667.5 782.4,660.7 789.6,677.6 766.4,687.6" fill="#4a64f0" stroke="#4a64f0" stroke-width="0.9"/>
<polygon points="766.4,687.6 789.6,677.6 799.3,697.7 783.0,709.0 770.0,700.0" fill="#5078f0" stroke="#5078f0" stroke-width="0.9"/>
<polygon points="840.0,770.0 905.0,712.0 960.0,760.0 895.0,805.0" fill="#90f8c0" stroke="#90f8c0" stroke-width="0.9"/>
<polygon points="838.0,690.0 866.0,680.0 876.0,708.0 848.0,718.0" fill="#98f8a0" stroke="#98f8a0" stroke-width="0.9"/>
<polygon points="580.0,628.0 603.4,628.0 603.4,659.6 580.0,659.6" fill="#68b0f0" stroke="#68b0f0" stroke-width="0.9"/>
<polygon points="580.0,659.6 603.4,659.6 603.4,700.0 580.0,700.0" fill="#78d8f8" stroke="#78d8f8" stroke-width="0.9"/>
<polygon points="603.4,634.0 621.9,634.0 621.9,659.6 603.4,659.6" fill="#80e8f8" stroke="#80e8f8" stroke-width="0.9"/>
<polygon points="603.4,659.6 621.9,659.6 621.9,700.0 603.4,700.0" fill="#88f0f8" stroke="#88f0f8" stroke-width="0.9"/>
<polygon points="621.9,640.0 641.7,640.0 641.7,659.6 621.9,659.6" fill="#88f8e8" stroke="#88f8e8" stroke-width="0.9"/>
<polygon points="621.9,659.6 641.7,659.6 641.7,700.0 621.9,700.0" fill="#88f8d0" stroke="#88f8d0" stroke-width="0.9"/>
<polygon points="641.7,640.0 661.5,640.0 661.5,659.6 641.7,659.6" fill="#90f8b0" stroke="#90f8b0" stroke-width="0.9"/>
<polygon points="641.7,659.6 661.5,659.6 661.5,700.0 641.7,700.0" fill="#90f8b0" stroke="#90f8b0" stroke-width="0.9"/>
<polygon points="661.5,640.0 681.3,640.0 681.3,659.6 661.5,659.6" fill="#98f8a0" stroke="#98f8a0" stroke-width="0.9"/>
<polygon points="661.5,659.6 681.3,659.6 681.3,700.0 661.5,700.0" fill="#98f890" stroke="#98f890" stroke-width="0.9"/>
<polygon points="681.3,640.0 699.8,640.0 699.8,659.6 681.3,659.6" fill="#98f8a0" stroke="#98f8a0" stroke-width="0.9"/>
<polygon points="681.3,659.6 699.8,659.6 699.8,700.0 681.3,700.0" fill="#98f890" stroke="#98f890" stroke-width="0.9"/>
<polygon points="699.8,640.0 723.3,640.0 723.3,659.6 699.8,659.6" fill="#98f8a0" stroke="#98f8a0" stroke-width="0.9"/>
<polygon points="699.8,659.6 723.3,659.6 723.3,700.0 699.8,700.0" fill="#98f890" stroke="#98f890" stroke-width="0.9"/>
<polygon points="723.3,640.0 746.0,640.0 746.0,659.6 723.3,659.6" fill="#98f8a0" stroke="#98f8a0" stroke-width="0.9"/>
<polygon points="723.3,659.6 746.0,659.6 746.0,700.0 723.3,700.0" fill="#98f890" stroke="#98f890" stroke-width="0.9"/>
<polygon points="575.0,674.4 603.4,674.4 602.0,692.0 575.0,692.0" fill="#98f890" stroke="#98f890" stroke-width="0.9"/>
<polygon points="603.4,674.4 621.9,674.4 619.5,692.0 602.0,692.0" fill="#98f890" stroke="#98f890" stroke-width="0.9"/>
<polygon points="621.9,674.4 641.7,674.4 638.8,692.0 619.5,692.0" fill="#90f8c0" stroke="#90f8c0" stroke-width="0.9"/>
<polygon points="641.7,674.4 661.5,674.4 657.3,692.0 638.8,692.0" fill="#2800f0" stroke="#2800f0" stroke-width="0.9"/>
<polygon points="661.5,674.4 690.0,674.4 690.0,692.0 657.3,692.0" fill="#98f890" stroke="#98f890" stroke-width="0.9"/>
<polygon points="575.0,692.0 602.0,692.0 600.0,710.0 575.0,710.0" fill="#a8f870" stroke="#a8f870" stroke-width="0.9"/>
<polygon points="602.0,692.0 619.5,692.0 618.5,710.0 600.0,710.0" fill="#a8f870" stroke="#a8f870" stroke-width="0.9"/>
<polygon points="619.5,692.0 638.8,692.0 637.0,710.0 618.5,710.0" fill="#80e8f8" stroke="#80e8f8" stroke-width="0.9"/>
<polygon points="638.8,692.0 657.3,692.0 655.0,710.0 637.0,710.0" fill="#5078f0" stroke="#5078f0" stroke-width="0.9"/>
<polygon points="657.3,692.0 690.0,692.0 690.0,710.0 655.0,710.0" fill="#a8f870" stroke="#a8f870" stroke-width="0.9"/>
<polygon points="575.0,710.0 600.0,710.0 598.0,729.0 575.0,729.0" fill="#b8f850" stroke="#b8f850" stroke-width="0.9"/>
<polygon points="600.0,710.0 618.5,710.0 617.0,729.0 598.0,729.0" fill="#a8f870" stroke="#a8f870" stroke-width="0.9"/>
<polygon points="618.5,710.0 637.0,710.0 635.0,729.0 617.0,729.0" fill="#4050f0" stroke="#4050f0" stroke-width="0.9"/>
<polygon points="637.0,710.0 655.0,710.0 652.0,729.0 635.0,729.0" fill="#88f0f8" stroke="#88f0f8" stroke-width="0.9"/>
<polygon points="655.0,710.0 690.0,710.0 690.0,729.0 652.0,729.0" fill="#a8f870" stroke="#a8f870" stroke-width="0.9"/>
<polygon points="575.0,729.0 598.0,729.0 596.0,748.0 575.0,748.0" fill="#a8f870" stroke="#a8f870" stroke-width="0.9"/>
<polygon points="598.0,729.0 617.0,729.0 615.5,748.0 596.0,748.0" fill="#90f8b0" stroke="#90f8b0" stroke-width="0.9"/>
<polygon points="617.0,729.0 635.0,729.0 633.0,748.0 615.5,748.0" fill="#60a0f0" stroke="#60a0f0" stroke-width="0.9"/>
<polygon points="635.0,729.0 652.0,729.0 649.0,748.0 633.0,748.0" fill="#98f890" stroke="#98f890" stroke-width="0.9"/>
<polygon points="652.0,729.0 690.0,729.0 690.0,748.0 649.0,748.0" fill="#a8f870" stroke="#a8f870" stroke-width="0.9"/>
<polygon points="575.0,748.0 596.0,748.0 596.0,767.5 575.0,767.5" fill="#68b0f0" stroke="#68b0f0" stroke-width="0.9"/>
<polygon points="596.0,748.0 615.5,748.0 614.3,767.5 596.0,767.5" fill="#68b0f0" stroke="#68b0f0" stroke-width="0.9"/>
<polygon points="615.5,748.0 633.0,748.0 630.6,767.5 614.3,767.5" fill="#88f8d0" stroke="#88f8d0" stroke-width="0.9"/>
<polygon points="633.0,748.0 649.0,748.0 644.7,767.5 630.6,767.5" fill="#a8f870" stroke="#a8f870" stroke-width="0.9"/>
<polygon points="649.0,748.0 690.0,748.0 690.0,767.5 644.7,767.5" fill="#a8f870" stroke="#a8f870" stroke-width="0.9"/>
<polygon points="575.0,767.5 596.0,767.5 596.0,795.0 575.0,795.0" fill="#b0f860" stroke="#b0f860" stroke-width="0.9"/>
<polygon points="596.0,767.5 614.3,767.5 612.0,795.0 596.0,795.0" fill="#b0f860" stroke="#b0f860" stroke-width="0.9"/>
<polygon points="614.3,767.5 630.6,767.5 628.0,795.0 612.0,795.0" fill="#b0f860" stroke="#b0f860" stroke-width="0.9"/>
<polygon points="630.6,767.5 644.7,767.5 640.0,795.0 628.0,795.0" fill="#b0f860" stroke="#b0f860" stroke-width="0.9"/>
<polygon points="644.7,767.5 690.0,767.5 690.0,795.0 640.0,795.0" fill="#b0f860" stroke="#b0f860" stroke-width="0.9"/>
</g></g>
<rect x="235.10" y="40.90" width="935.00" height="778.95" fill="none" stroke="#000" stroke-width="3.7"/>
<line x1="235.10" y1="819.85" x2="235.10" y2="828.85" stroke="#000" stroke-width="3.7"/>
<line x1="390.93" y1="819.85" x2="390.93" y2="828.85" stroke="#000" stroke-width="3.7"/>
<line x1="546.77" y1="819.85" x2="546.77" y2="828.85" stroke="#000" stroke-width="3.7"/>
<line x1="702.60" y1="819.85" x2="702.60" y2="828.85" stroke="#000" stroke-width="3.7"/>
<line x1="858.43" y1="819.85" x2="858.43" y2="828.85" stroke="#000" stroke-width="3.7"/>
<line x1="1014.27" y1="819.85" x2="1014.27" y2="828.85" stroke="#000" stroke-width="3.7"/>
<line x1="1170.10" y1="819.85" x2="1170.10" y2="828.85" stroke="#000" stroke-width="3.7"/>
<line x1="226.10" y1="819.85" x2="235.10" y2="819.85" stroke="#000" stroke-width="3.7"/>
<line x1="226.10" y1="741.96" x2="235.10" y2="741.96" stroke="#000" stroke-width="3.7"/>
<line x1="226.10" y1="664.06" x2="235.10" y2="664.06" stroke="#000" stroke-width="3.7"/>
<line x1="226.10" y1="586.16" x2="235.10" y2="586.16" stroke="#000" stroke-width="3.7"/>
<line x1="226.10" y1="508.27" x2="235.10" y2="508.27" stroke="#000" stroke-width="3.7"/>
<line x1="226.10" y1="430.38" x2="235.10" y2="430.38" stroke="#000" stroke-width="3.7"/>
<line x1="226.10" y1="352.48" x2="235.10" y2="352.48" stroke="#000" stroke-width="3.7"/>
<line x1="226.10" y1="274.58" x2="235.10" y2="274.58" stroke="#000" stroke-width="3.7"/>
<line x1="226.10" y1="196.69" x2="235.10" y2="196.69" stroke="#000" stroke-width="3.7"/>
<line x1="226.10" y1="118.79" x2="235.10" y2="118.79" stroke="#000" stroke-width="3.7"/>
<line x1="226.10" y1="40.90" x2="235.10" y2="40.90" stroke="#000" stroke-width="3.7"/>
<text transform="translate(197.40,877) scale(1,1.05)" font-size="45">2.8</text>
<text transform="translate(355.30,877) scale(1,1.05)" font-size="45">2.9</text>
<text transform="translate(521.50,877) scale(1,1.05)" font-size="45">3.0</text>
<text transform="translate(667.30,877) scale(1,1.05)" font-size="45">3.1</text>
<text transform="translate(822.50,877) scale(1,1.05)" font-size="45">3.2</text>
<text transform="translate(978.60,877) scale(1,1.05)" font-size="45">3.3</text>
<text transform="translate(1133.10,877) scale(1,1.05)" font-size="45">3.4</text>
<text transform="translate(209.10,828.85) scale(1,1.03)" font-size="45" text-anchor="end">2.90</text>
<text transform="translate(209.10,750.96) scale(1,1.03)" font-size="45" text-anchor="end">2.95</text>
<text transform="translate(209.10,673.06) scale(1,1.03)" font-size="45" text-anchor="end">3.00</text>
<text transform="translate(209.10,595.16) scale(1,1.03)" font-size="45" text-anchor="end">3.05</text>
<text transform="translate(209.10,517.27) scale(1,1.03)" font-size="45" text-anchor="end">3.10</text>
<text transform="translate(209.10,439.38) scale(1,1.03)" font-size="45" text-anchor="end">3.15</text>
<text transform="translate(209.10,361.48) scale(1,1.03)" font-size="45" text-anchor="end">3.20</text>
<text transform="translate(209.10,283.58) scale(1,1.03)" font-size="45" text-anchor="end">3.25</text>
<text transform="translate(209.10,205.69) scale(1,1.03)" font-size="45" text-anchor="end">3.30</text>
<text transform="translate(209.10,127.79) scale(1,1.03)" font-size="45" text-anchor="end">3.35</text>
<text transform="translate(209.10,49.90) scale(1,1.03)" font-size="45" text-anchor="end">3.40</text>
<text x="689.90" y="937" font-size="48.5" text-anchor="middle">x coordinate (×10<tspan font-size="28" dy="-17">4</tspan><tspan dy="17">)</tspan></text>
<text transform="translate(77.10,435.48) rotate(-90)" font-size="48.5" text-anchor="middle">y coordinate (×10<tspan font-size="28" dy="-17">4</tspan><tspan dy="17">)</tspan></text>
<text x="17.40" y="50" font-size="56" font-weight="bold">a</text>
<rect x="228.00" y="980.0" width="15.28" height="29.80" fill="#180868"/>
<rect x="242.68" y="980.0" width="15.28" height="29.80" fill="#1a0874"/>
<rect x="257.35" y="980.0" width="15.28" height="29.80" fill="#1c0880"/>
<rect x="272.02" y="980.0" width="15.28" height="29.80" fill="#1e088c"/>
<rect x="286.70" y="980.0" width="15.28" height="29.80" fill="#200898"/>
<rect x="301.38" y="980.0" width="15.28" height="29.80" fill="#2008a8"/>
<rect x="316.05" y="980.0" width="15.28" height="29.80" fill="#2200c0"/>
<rect x="330.73" y="980.0" width="15.28" height="29.80" fill="#2400d8"/>
<rect x="345.40" y="980.0" width="15.28" height="29.80" fill="#2600e8"/>
<rect x="360.08" y="980.0" width="15.28" height="29.80" fill="#2800f0"/>
<rect x="374.75" y="980.0" width="15.28" height="29.80" fill="#2a00f5"/>
<rect x="389.43" y="980.0" width="15.28" height="29.80" fill="#2a08f5"/>
<rect x="404.10" y="980.0" width="15.28" height="29.80" fill="#3020f0"/>
<rect x="418.77" y="980.0" width="15.28" height="29.80" fill="#3838f0"/>
<rect x="433.45" y="980.0" width="15.28" height="29.80" fill="#3c40f0"/>
<rect x="448.12" y="980.0" width="15.28" height="29.80" fill="#4050f0"/>
<rect x="462.80" y="980.0" width="15.28" height="29.80" fill="#4a64f0"/>
<rect x="477.48" y="980.0" width="15.28" height="29.80" fill="#5078f0"/>
<rect x="492.15" y="980.0" width="15.28" height="29.80" fill="#5888f0"/>
<rect x="506.82" y="980.0" width="15.28" height="29.80" fill="#60a0f0"/>
<rect x="521.50" y="980.0" width="15.28" height="29.80" fill="#68b0f0"/>
<rect x="536.17" y="980.0" width="15.28" height="29.80" fill="#70c0f8"/>
<rect x="550.85" y="980.0" width="15.28" height="29.80" fill="#78d8f8"/>
<rect x="565.53" y="980.0" width="15.28" height="29.80" fill="#80e8f8"/>
<rect x="580.20" y="980.0" width="15.28" height="29.80" fill="#88f0f8"/>
<rect x="594.88" y="980.0" width="15.28" height="29.80" fill="#88f8e8"/>
<rect x="609.55" y="980.0" width="15.28" height="29.80" fill="#88f8d0"/>
<rect x="624.23" y="980.0" width="15.28" height="29.80" fill="#90f8c0"/>
<rect x="638.90" y="980.0" width="15.28" height="29.80" fill="#90f8b0"/>
<rect x="653.58" y="980.0" width="15.28" height="29.80" fill="#98f8a0"/>
<rect x="668.25" y="980.0" width="15.28" height="29.80" fill="#98f890"/>
<rect x="682.92" y="980.0" width="15.28" height="29.80" fill="#a0f880"/>
<rect x="697.60" y="980.0" width="15.28" height="29.80" fill="#a8f870"/>
<rect x="712.28" y="980.0" width="15.28" height="29.80" fill="#b0f860"/>
<rect x="726.95" y="980.0" width="15.28" height="29.80" fill="#b8f850"/>
<rect x="741.62" y="980.0" width="15.28" height="29.80" fill="#c0f840"/>
<rect x="756.30" y="980.0" width="15.28" height="29.80" fill="#c8f838"/>
<rect x="770.98" y="980.0" width="15.28" height="29.80" fill="#d0f830"/>
<rect x="785.65" y="980.0" width="15.28" height="29.80" fill="#d8f830"/>
<rect x="800.33" y="980.0" width="15.28" height="29.80" fill="#e8f830"/>
<rect x="815.00" y="980.0" width="15.28" height="29.80" fill="#f0f830"/>
<rect x="829.68" y="980.0" width="15.28" height="29.80" fill="#f8f030"/>
<rect x="844.35" y="980.0" width="15.28" height="29.80" fill="#f0e030"/>
<rect x="859.02" y="980.0" width="15.28" height="29.80" fill="#e8d030"/>
<rect x="873.70" y="980.0" width="15.28" height="29.80" fill="#e8c028"/>
<rect x="888.38" y="980.0" width="15.28" height="29.80" fill="#e0a828"/>
<rect x="903.05" y="980.0" width="15.28" height="29.80" fill="#e09828"/>
<rect x="917.73" y="980.0" width="15.28" height="29.80" fill="#d88820"/>
<rect x="932.40" y="980.0" width="15.28" height="29.80" fill="#d87820"/>
<rect x="947.08" y="980.0" width="15.28" height="29.80" fill="#d86820"/>
<rect x="961.75" y="980.0" width="15.28" height="29.80" fill="#d85820"/>
<rect x="976.43" y="980.0" width="15.28" height="29.80" fill="#d04820"/>
<rect x="991.10" y="980.0" width="15.28" height="29.80" fill="#d04020"/>
<rect x="1005.78" y="980.0" width="15.28" height="29.80" fill="#d03820"/>
<rect x="1020.45" y="980.0" width="15.28" height="29.80" fill="#d03020"/>
<rect x="1035.12" y="980.0" width="15.28" height="29.80" fill="#d02820"/>
<rect x="1049.80" y="980.0" width="15.28" height="29.80" fill="#d02020"/>
<rect x="1064.47" y="980.0" width="15.28" height="29.80" fill="#c01c1c"/>
<rect x="1079.15" y="980.0" width="15.28" height="29.80" fill="#b81818"/>
<rect x="1093.83" y="980.0" width="15.28" height="29.80" fill="#a81818"/>
<rect x="1108.50" y="980.0" width="15.28" height="29.80" fill="#981418"/>
<rect x="1123.18" y="980.0" width="15.28" height="29.80" fill="#801010"/>
<rect x="1137.85" y="980.0" width="15.28" height="29.80" fill="#701010"/>
<rect x="1152.53" y="980.0" width="15.28" height="29.80" fill="#580c10"/>
<rect x="229.85" y="981.85" width="935.50" height="26.10" fill="none" stroke="#000" stroke-width="3.7"/>
<line x1="323.40" y1="980.00" x2="323.40" y2="989.80" stroke="#000" stroke-width="3.7"/>
<line x1="323.40" y1="1000.00" x2="323.40" y2="1009.80" stroke="#000" stroke-width="3.7"/>
<line x1="416.95" y1="980.00" x2="416.95" y2="989.80" stroke="#000" stroke-width="3.7"/>
<line x1="416.95" y1="1000.00" x2="416.95" y2="1009.80" stroke="#000" stroke-width="3.7"/>
<line x1="510.50" y1="980.00" x2="510.50" y2="989.80" stroke="#000" stroke-width="3.7"/>
<line x1="510.50" y1="1000.00" x2="510.50" y2="1009.80" stroke="#000" stroke-width="3.7"/>
<line x1="604.05" y1="980.00" x2="604.05" y2="989.80" stroke="#000" stroke-width="3.7"/>
<line x1="604.05" y1="1000.00" x2="604.05" y2="1009.80" stroke="#000" stroke-width="3.7"/>
<line x1="697.60" y1="980.00" x2="697.60" y2="989.80" stroke="#000" stroke-width="3.7"/>
<line x1="697.60" y1="1000.00" x2="697.60" y2="1009.80" stroke="#000" stroke-width="3.7"/>
<line x1="791.15" y1="980.00" x2="791.15" y2="989.80" stroke="#000" stroke-width="3.7"/>
<line x1="791.15" y1="1000.00" x2="791.15" y2="1009.80" stroke="#000" stroke-width="3.7"/>
<line x1="884.70" y1="980.00" x2="884.70" y2="989.80" stroke="#000" stroke-width="3.7"/>
<line x1="884.70" y1="1000.00" x2="884.70" y2="1009.80" stroke="#000" stroke-width="3.7"/>
<line x1="978.25" y1="980.00" x2="978.25" y2="989.80" stroke="#000" stroke-width="3.7"/>
<line x1="978.25" y1="1000.00" x2="978.25" y2="1009.80" stroke="#000" stroke-width="3.7"/>
<line x1="1071.80" y1="980.00" x2="1071.80" y2="989.80" stroke="#000" stroke-width="3.7"/>
<line x1="1071.80" y1="1000.00" x2="1071.80" y2="1009.80" stroke="#000" stroke-width="3.7"/>
<text transform="translate(228.85,1051.8) scale(1,1.05)" font-size="41.5" text-anchor="middle">0</text>
<text transform="translate(322.40,1051.8) scale(1,1.05)" font-size="41.5" text-anchor="middle">2</text>
<text transform="translate(415.95,1051.8) scale(1,1.05)" font-size="41.5" text-anchor="middle">4</text>
<text transform="translate(509.50,1051.8) scale(1,1.05)" font-size="41.5" text-anchor="middle">6</text>
<text transform="translate(603.05,1051.8) scale(1,1.05)" font-size="41.5" text-anchor="middle">8</text>
<text transform="translate(696.60,1051.8) scale(1,1.05)" font-size="41.5" text-anchor="middle">10</text>
<text transform="translate(790.15,1051.8) scale(1,1.05)" font-size="41.5" text-anchor="middle">12</text>
<text transform="translate(883.70,1051.8) scale(1,1.05)" font-size="41.5" text-anchor="middle">14</text>
<text transform="translate(977.25,1051.8) scale(1,1.05)" font-size="41.5" text-anchor="middle">16</text>
<text transform="translate(1070.80,1051.8) scale(1,1.05)" font-size="41.5" text-anchor="middle">18</text>
<text transform="translate(1164.35,1051.8) scale(1,1.05)" font-size="41.5" text-anchor="middle">20</text>
<text x="697.60" y="1109" font-size="41.5" text-anchor="middle">Dissolved PFAS (ng L<tspan font-size="25" dy="-16">−1</tspan><tspan dy="16">)</tspan></text>
<rect x="1412.90" y="40.90" width="935.00" height="778.95" fill="none" stroke="#000" stroke-width="3.7"/>
<line x1="1412.90" y1="819.85" x2="1412.90" y2="828.85" stroke="#000" stroke-width="3.7"/>
<line x1="1568.73" y1="819.85" x2="1568.73" y2="828.85" stroke="#000" stroke-width="3.7"/>
<line x1="1724.57" y1="819.85" x2="1724.57" y2="828.85" stroke="#000" stroke-width="3.7"/>
<line x1="1880.40" y1="819.85" x2="1880.40" y2="828.85" stroke="#000" stroke-width="3.7"/>
<line x1="2036.23" y1="819.85" x2="2036.23" y2="828.85" stroke="#000" stroke-width="3.7"/>
<line x1="2192.07" y1="819.85" x2="2192.07" y2="828.85" stroke="#000" stroke-width="3.7"/>
<line x1="2347.90" y1="819.85" x2="2347.90" y2="828.85" stroke="#000" stroke-width="3.7"/>
<line x1="1403.90" y1="819.85" x2="1412.90" y2="819.85" stroke="#000" stroke-width="3.7"/>
<line x1="1403.90" y1="741.96" x2="1412.90" y2="741.96" stroke="#000" stroke-width="3.7"/>
<line x1="1403.90" y1="664.06" x2="1412.90" y2="664.06" stroke="#000" stroke-width="3.7"/>
<line x1="1403.90" y1="586.16" x2="1412.90" y2="586.16" stroke="#000" stroke-width="3.7"/>
<line x1="1403.90" y1="508.27" x2="1412.90" y2="508.27" stroke="#000" stroke-width="3.7"/>
<line x1="1403.90" y1="430.38" x2="1412.90" y2="430.38" stroke="#000" stroke-width="3.7"/>
<line x1="1403.90" y1="352.48" x2="1412.90" y2="352.48" stroke="#000" stroke-width="3.7"/>
<line x1="1403.90" y1="274.58" x2="1412.90" y2="274.58" stroke="#000" stroke-width="3.7"/>
<line x1="1403.90" y1="196.69" x2="1412.90" y2="196.69" stroke="#000" stroke-width="3.7"/>
<line x1="1403.90" y1="118.79" x2="1412.90" y2="118.79" stroke="#000" stroke-width="3.7"/>
<line x1="1403.90" y1="40.90" x2="1412.90" y2="40.90" stroke="#000" stroke-width="3.7"/>
<text transform="translate(1381.10,877) scale(1,1.05)" font-size="45">2.8</text>
<text transform="translate(1539.00,877) scale(1,1.05)" font-size="45">2.9</text>
<text transform="translate(1705.20,877) scale(1,1.05)" font-size="45">3.0</text>
<text transform="translate(1851.00,877) scale(1,1.05)" font-size="45">3.1</text>
<text transform="translate(2006.20,877) scale(1,1.05)" font-size="45">3.2</text>
<text transform="translate(2162.30,877) scale(1,1.05)" font-size="45">3.3</text>
<text transform="translate(2316.80,877) scale(1,1.05)" font-size="45">3.4</text>
<text transform="translate(1392.90,828.85) scale(1,1.03)" font-size="45" text-anchor="end">2.90</text>
<text transform="translate(1392.90,750.96) scale(1,1.03)" font-size="45" text-anchor="end">2.95</text>
<text transform="translate(1392.90,673.06) scale(1,1.03)" font-size="45" text-anchor="end">3.00</text>
<text transform="translate(1392.90,595.16) scale(1,1.03)" font-size="45" text-anchor="end">3.05</text>
<text transform="translate(1392.90,517.27) scale(1,1.03)" font-size="45" text-anchor="end">3.10</text>
<text transform="translate(1392.90,439.38) scale(1,1.03)" font-size="45" text-anchor="end">3.15</text>
<text transform="translate(1392.90,361.48) scale(1,1.03)" font-size="45" text-anchor="end">3.20</text>
<text transform="translate(1392.90,283.58) scale(1,1.03)" font-size="45" text-anchor="end">3.25</text>
<text transform="translate(1392.90,205.69) scale(1,1.03)" font-size="45" text-anchor="end">3.30</text>
<text transform="translate(1392.90,127.79) scale(1,1.03)" font-size="45" text-anchor="end">3.35</text>
<text transform="translate(1392.90,49.90) scale(1,1.03)" font-size="45" text-anchor="end">3.40</text>
<text x="1874.00" y="937" font-size="48.5" text-anchor="middle">x coordinate (×10<tspan font-size="28" dy="-17">4</tspan><tspan dy="17">)</tspan></text>
<text transform="translate(1263.80,435.48) rotate(-90)" font-size="48.5" text-anchor="middle">y coordinate (×10<tspan font-size="28" dy="-17">4</tspan><tspan dy="17">)</tspan></text>
<text x="1202.10" y="50" font-size="56" font-weight="bold">b</text>
<rect x="1413.90" y="980.0" width="15.28" height="29.80" fill="#180868"/>
<rect x="1428.58" y="980.0" width="15.28" height="29.80" fill="#1a0874"/>
<rect x="1443.25" y="980.0" width="15.28" height="29.80" fill="#1c0880"/>
<rect x="1457.93" y="980.0" width="15.28" height="29.80" fill="#1e088c"/>
<rect x="1472.60" y="980.0" width="15.28" height="29.80" fill="#200898"/>
<rect x="1487.28" y="980.0" width="15.28" height="29.80" fill="#2008a8"/>
<rect x="1501.95" y="980.0" width="15.28" height="29.80" fill="#2200c0"/>
<rect x="1516.62" y="980.0" width="15.28" height="29.80" fill="#2400d8"/>
<rect x="1531.30" y="980.0" width="15.28" height="29.80" fill="#2600e8"/>
<rect x="1545.98" y="980.0" width="15.28" height="29.80" fill="#2800f0"/>
<rect x="1560.65" y="980.0" width="15.28" height="29.80" fill="#2a00f5"/>
<rect x="1575.33" y="980.0" width="15.28" height="29.80" fill="#2a08f5"/>
<rect x="1590.00" y="980.0" width="15.28" height="29.80" fill="#3020f0"/>
<rect x="1604.68" y="980.0" width="15.28" height="29.80" fill="#3838f0"/>
<rect x="1619.35" y="980.0" width="15.28" height="29.80" fill="#3c40f0"/>
<rect x="1634.03" y="980.0" width="15.28" height="29.80" fill="#4050f0"/>
<rect x="1648.70" y="980.0" width="15.28" height="29.80" fill="#4a64f0"/>
<rect x="1663.38" y="980.0" width="15.28" height="29.80" fill="#5078f0"/>
<rect x="1678.05" y="980.0" width="15.28" height="29.80" fill="#5888f0"/>
<rect x="1692.73" y="980.0" width="15.28" height="29.80" fill="#60a0f0"/>
<rect x="1707.40" y="980.0" width="15.28" height="29.80" fill="#68b0f0"/>
<rect x="1722.08" y="980.0" width="15.28" height="29.80" fill="#70c0f8"/>
<rect x="1736.75" y="980.0" width="15.28" height="29.80" fill="#78d8f8"/>
<rect x="1751.43" y="980.0" width="15.28" height="29.80" fill="#80e8f8"/>
<rect x="1766.10" y="980.0" width="15.28" height="29.80" fill="#88f0f8"/>
<rect x="1780.78" y="980.0" width="15.28" height="29.80" fill="#88f8e8"/>
<rect x="1795.45" y="980.0" width="15.28" height="29.80" fill="#88f8d0"/>
<rect x="1810.13" y="980.0" width="15.28" height="29.80" fill="#90f8c0"/>
<rect x="1824.80" y="980.0" width="15.28" height="29.80" fill="#90f8b0"/>
<rect x="1839.48" y="980.0" width="15.28" height="29.80" fill="#98f8a0"/>
<rect x="1854.15" y="980.0" width="15.28" height="29.80" fill="#98f890"/>
<rect x="1868.83" y="980.0" width="15.28" height="29.80" fill="#a0f880"/>
<rect x="1883.50" y="980.0" width="15.28" height="29.80" fill="#a8f870"/>
<rect x="1898.18" y="980.0" width="15.28" height="29.80" fill="#b0f860"/>
<rect x="1912.85" y="980.0" width="15.28" height="29.80" fill="#b8f850"/>
<rect x="1927.53" y="980.0" width="15.28" height="29.80" fill="#c0f840"/>
<rect x="1942.20" y="980.0" width="15.28" height="29.80" fill="#c8f838"/>
<rect x="1956.88" y="980.0" width="15.28" height="29.80" fill="#d0f830"/>
<rect x="1971.55" y="980.0" width="15.28" height="29.80" fill="#d8f830"/>
<rect x="1986.23" y="980.0" width="15.28" height="29.80" fill="#e8f830"/>
<rect x="2000.90" y="980.0" width="15.28" height="29.80" fill="#f0f830"/>
<rect x="2015.58" y="980.0" width="15.28" height="29.80" fill="#f8f030"/>
<rect x="2030.25" y="980.0" width="15.28" height="29.80" fill="#f0e030"/>
<rect x="2044.93" y="980.0" width="15.28" height="29.80" fill="#e8d030"/>
<rect x="2059.60" y="980.0" width="15.28" height="29.80" fill="#e8c028"/>
<rect x="2074.28" y="980.0" width="15.28" height="29.80" fill="#e0a828"/>
<rect x="2088.95" y="980.0" width="15.28" height="29.80" fill="#e09828"/>
<rect x="2103.63" y="980.0" width="15.28" height="29.80" fill="#d88820"/>
<rect x="2118.30" y="980.0" width="15.28" height="29.80" fill="#d87820"/>
<rect x="2132.98" y="980.0" width="15.28" height="29.80" fill="#d86820"/>
<rect x="2147.65" y="980.0" width="15.28" height="29.80" fill="#d85820"/>
<rect x="2162.33" y="980.0" width="15.28" height="29.80" fill="#d04820"/>
<rect x="2177.00" y="980.0" width="15.28" height="29.80" fill="#d04020"/>
<rect x="2191.68" y="980.0" width="15.28" height="29.80" fill="#d03820"/>
<rect x="2206.35" y="980.0" width="15.28" height="29.80" fill="#d03020"/>
<rect x="2221.03" y="980.0" width="15.28" height="29.80" fill="#d02820"/>
<rect x="2235.70" y="980.0" width="15.28" height="29.80" fill="#d02020"/>
<rect x="2250.38" y="980.0" width="15.28" height="29.80" fill="#c01c1c"/>
<rect x="2265.05" y="980.0" width="15.28" height="29.80" fill="#b81818"/>
<rect x="2279.73" y="980.0" width="15.28" height="29.80" fill="#a81818"/>
<rect x="2294.40" y="980.0" width="15.28" height="29.80" fill="#981418"/>
<rect x="2309.08" y="980.0" width="15.28" height="29.80" fill="#801010"/>
<rect x="2323.75" y="980.0" width="15.28" height="29.80" fill="#701010"/>
<rect x="2338.43" y="980.0" width="15.28" height="29.80" fill="#580c10"/>
<rect x="1415.75" y="981.85" width="935.50" height="26.10" fill="none" stroke="#000" stroke-width="3.7"/>
<line x1="1509.30" y1="980.00" x2="1509.30" y2="989.80" stroke="#000" stroke-width="3.7"/>
<line x1="1509.30" y1="1000.00" x2="1509.30" y2="1009.80" stroke="#000" stroke-width="3.7"/>
<line x1="1602.85" y1="980.00" x2="1602.85" y2="989.80" stroke="#000" stroke-width="3.7"/>
<line x1="1602.85" y1="1000.00" x2="1602.85" y2="1009.80" stroke="#000" stroke-width="3.7"/>
<line x1="1696.40" y1="980.00" x2="1696.40" y2="989.80" stroke="#000" stroke-width="3.7"/>
<line x1="1696.40" y1="1000.00" x2="1696.40" y2="1009.80" stroke="#000" stroke-width="3.7"/>
<line x1="1789.95" y1="980.00" x2="1789.95" y2="989.80" stroke="#000" stroke-width="3.7"/>
<line x1="1789.95" y1="1000.00" x2="1789.95" y2="1009.80" stroke="#000" stroke-width="3.7"/>
<line x1="1883.50" y1="980.00" x2="1883.50" y2="989.80" stroke="#000" stroke-width="3.7"/>
<line x1="1883.50" y1="1000.00" x2="1883.50" y2="1009.80" stroke="#000" stroke-width="3.7"/>
<line x1="1977.05" y1="980.00" x2="1977.05" y2="989.80" stroke="#000" stroke-width="3.7"/>
<line x1="1977.05" y1="1000.00" x2="1977.05" y2="1009.80" stroke="#000" stroke-width="3.7"/>
<line x1="2070.60" y1="980.00" x2="2070.60" y2="989.80" stroke="#000" stroke-width="3.7"/>
<line x1="2070.60" y1="1000.00" x2="2070.60" y2="1009.80" stroke="#000" stroke-width="3.7"/>
<line x1="2164.15" y1="980.00" x2="2164.15" y2="989.80" stroke="#000" stroke-width="3.7"/>
<line x1="2164.15" y1="1000.00" x2="2164.15" y2="1009.80" stroke="#000" stroke-width="3.7"/>
<line x1="2257.70" y1="980.00" x2="2257.70" y2="989.80" stroke="#000" stroke-width="3.7"/>
<line x1="2257.70" y1="1000.00" x2="2257.70" y2="1009.80" stroke="#000" stroke-width="3.7"/>
<text transform="translate(1416.25,1051.8) scale(1,1.05)" font-size="41.5" text-anchor="middle">0</text>
<text transform="translate(1509.80,1051.8) scale(1,1.05)" font-size="41.5" text-anchor="middle">2</text>
<text transform="translate(1603.35,1051.8) scale(1,1.05)" font-size="41.5" text-anchor="middle">4</text>
<text transform="translate(1696.90,1051.8) scale(1,1.05)" font-size="41.5" text-anchor="middle">6</text>
<text transform="translate(1790.45,1051.8) scale(1,1.05)" font-size="41.5" text-anchor="middle">8</text>
<text transform="translate(1884.00,1051.8) scale(1,1.05)" font-size="41.5" text-anchor="middle">10</text>
<text transform="translate(1977.55,1051.8) scale(1,1.05)" font-size="41.5" text-anchor="middle">12</text>
<text transform="translate(2071.10,1051.8) scale(1,1.05)" font-size="41.5" text-anchor="middle">14</text>
<text transform="translate(2164.65,1051.8) scale(1,1.05)" font-size="41.5" text-anchor="middle">16</text>
<text transform="translate(2258.20,1051.8) scale(1,1.05)" font-size="41.5" text-anchor="middle">18</text>
<text transform="translate(2351.75,1051.8) scale(1,1.05)" font-size="41.5" text-anchor="middle">20</text>
<text x="1883.50" y="1109" font-size="41.5" text-anchor="middle">Dissolved PFOA (ng L<tspan font-size="25" dy="-16">−1</tspan><tspan dy="16">)</tspan></text>
<rect x="2590.20" y="40.90" width="935.00" height="778.95" fill="none" stroke="#000" stroke-width="3.7"/>
<line x1="2590.20" y1="819.85" x2="2590.20" y2="828.85" stroke="#000" stroke-width="3.7"/>
<line x1="2746.03" y1="819.85" x2="2746.03" y2="828.85" stroke="#000" stroke-width="3.7"/>
<line x1="2901.87" y1="819.85" x2="2901.87" y2="828.85" stroke="#000" stroke-width="3.7"/>
<line x1="3057.70" y1="819.85" x2="3057.70" y2="828.85" stroke="#000" stroke-width="3.7"/>
<line x1="3213.53" y1="819.85" x2="3213.53" y2="828.85" stroke="#000" stroke-width="3.7"/>
<line x1="3369.37" y1="819.85" x2="3369.37" y2="828.85" stroke="#000" stroke-width="3.7"/>
<line x1="3525.20" y1="819.85" x2="3525.20" y2="828.85" stroke="#000" stroke-width="3.7"/>
<line x1="2581.20" y1="819.85" x2="2590.20" y2="819.85" stroke="#000" stroke-width="3.7"/>
<line x1="2581.20" y1="741.96" x2="2590.20" y2="741.96" stroke="#000" stroke-width="3.7"/>
<line x1="2581.20" y1="664.06" x2="2590.20" y2="664.06" stroke="#000" stroke-width="3.7"/>
<line x1="2581.20" y1="586.16" x2="2590.20" y2="586.16" stroke="#000" stroke-width="3.7"/>
<line x1="2581.20" y1="508.27" x2="2590.20" y2="508.27" stroke="#000" stroke-width="3.7"/>
<line x1="2581.20" y1="430.38" x2="2590.20" y2="430.38" stroke="#000" stroke-width="3.7"/>
<line x1="2581.20" y1="352.48" x2="2590.20" y2="352.48" stroke="#000" stroke-width="3.7"/>
<line x1="2581.20" y1="274.58" x2="2590.20" y2="274.58" stroke="#000" stroke-width="3.7"/>
<line x1="2581.20" y1="196.69" x2="2590.20" y2="196.69" stroke="#000" stroke-width="3.7"/>
<line x1="2581.20" y1="118.79" x2="2590.20" y2="118.79" stroke="#000" stroke-width="3.7"/>
<line x1="2581.20" y1="40.90" x2="2590.20" y2="40.90" stroke="#000" stroke-width="3.7"/>
<text transform="translate(2560.70,877) scale(1,1.05)" font-size="45">2.8</text>
<text transform="translate(2718.60,877) scale(1,1.05)" font-size="45">2.9</text>
<text transform="translate(2884.80,877) scale(1,1.05)" font-size="45">3.0</text>
<text transform="translate(3030.60,877) scale(1,1.05)" font-size="45">3.1</text>
<text transform="translate(3185.80,877) scale(1,1.05)" font-size="45">3.2</text>
<text transform="translate(3341.90,877) scale(1,1.05)" font-size="45">3.3</text>
<text transform="translate(3496.40,877) scale(1,1.05)" font-size="45">3.4</text>
<text transform="translate(2573.30,828.85) scale(1,1.03)" font-size="45" text-anchor="end">2.90</text>
<text transform="translate(2573.30,750.96) scale(1,1.03)" font-size="45" text-anchor="end">2.95</text>
<text transform="translate(2573.30,673.06) scale(1,1.03)" font-size="45" text-anchor="end">3.00</text>
<text transform="translate(2573.30,595.16) scale(1,1.03)" font-size="45" text-anchor="end">3.05</text>
<text transform="translate(2573.30,517.27) scale(1,1.03)" font-size="45" text-anchor="end">3.10</text>
<text transform="translate(2573.30,439.38) scale(1,1.03)" font-size="45" text-anchor="end">3.15</text>
<text transform="translate(2573.30,361.48) scale(1,1.03)" font-size="45" text-anchor="end">3.20</text>
<text transform="translate(2573.30,283.58) scale(1,1.03)" font-size="45" text-anchor="end">3.25</text>
<text transform="translate(2573.30,205.69) scale(1,1.03)" font-size="45" text-anchor="end">3.30</text>
<text transform="translate(2573.30,127.79) scale(1,1.03)" font-size="45" text-anchor="end">3.35</text>
<text transform="translate(2573.30,49.90) scale(1,1.03)" font-size="45" text-anchor="end">3.40</text>
<text x="3053.80" y="937" font-size="48.5" text-anchor="middle">x coordinate (×10<tspan font-size="28" dy="-17">4</tspan><tspan dy="17">)</tspan></text>
<text transform="translate(2441.10,435.48) rotate(-90)" font-size="48.5" text-anchor="middle">y coordinate (×10<tspan font-size="28" dy="-17">4</tspan><tspan dy="17">)</tspan></text>
<text x="2381.40" y="50" font-size="56" font-weight="bold">c</text>
<rect x="2592.40" y="980.0" width="15.28" height="29.80" fill="#180868"/>
<rect x="2607.08" y="980.0" width="15.28" height="29.80" fill="#1a0874"/>
<rect x="2621.75" y="980.0" width="15.28" height="29.80" fill="#1c0880"/>
<rect x="2636.43" y="980.0" width="15.28" height="29.80" fill="#1e088c"/>
<rect x="2651.10" y="980.0" width="15.28" height="29.80" fill="#200898"/>
<rect x="2665.78" y="980.0" width="15.28" height="29.80" fill="#2008a8"/>
<rect x="2680.45" y="980.0" width="15.28" height="29.80" fill="#2200c0"/>
<rect x="2695.12" y="980.0" width="15.28" height="29.80" fill="#2400d8"/>
<rect x="2709.80" y="980.0" width="15.28" height="29.80" fill="#2600e8"/>
<rect x="2724.48" y="980.0" width="15.28" height="29.80" fill="#2800f0"/>
<rect x="2739.15" y="980.0" width="15.28" height="29.80" fill="#2a00f5"/>
<rect x="2753.83" y="980.0" width="15.28" height="29.80" fill="#2a08f5"/>
<rect x="2768.50" y="980.0" width="15.28" height="29.80" fill="#3020f0"/>
<rect x="2783.18" y="980.0" width="15.28" height="29.80" fill="#3838f0"/>
<rect x="2797.85" y="980.0" width="15.28" height="29.80" fill="#3c40f0"/>
<rect x="2812.53" y="980.0" width="15.28" height="29.80" fill="#4050f0"/>
<rect x="2827.20" y="980.0" width="15.28" height="29.80" fill="#4a64f0"/>
<rect x="2841.88" y="980.0" width="15.28" height="29.80" fill="#5078f0"/>
<rect x="2856.55" y="980.0" width="15.28" height="29.80" fill="#5888f0"/>
<rect x="2871.23" y="980.0" width="15.28" height="29.80" fill="#60a0f0"/>
<rect x="2885.90" y="980.0" width="15.28" height="29.80" fill="#68b0f0"/>
<rect x="2900.58" y="980.0" width="15.28" height="29.80" fill="#70c0f8"/>
<rect x="2915.25" y="980.0" width="15.28" height="29.80" fill="#78d8f8"/>
<rect x="2929.93" y="980.0" width="15.28" height="29.80" fill="#80e8f8"/>
<rect x="2944.60" y="980.0" width="15.28" height="29.80" fill="#88f0f8"/>
<rect x="2959.28" y="980.0" width="15.28" height="29.80" fill="#88f8e8"/>
<rect x="2973.95" y="980.0" width="15.28" height="29.80" fill="#88f8d0"/>
<rect x="2988.62" y="980.0" width="15.28" height="29.80" fill="#90f8c0"/>
<rect x="3003.30" y="980.0" width="15.28" height="29.80" fill="#90f8b0"/>
<rect x="3017.98" y="980.0" width="15.28" height="29.80" fill="#98f8a0"/>
<rect x="3032.65" y="980.0" width="15.28" height="29.80" fill="#98f890"/>
<rect x="3047.33" y="980.0" width="15.28" height="29.80" fill="#a0f880"/>
<rect x="3062.00" y="980.0" width="15.28" height="29.80" fill="#a8f870"/>
<rect x="3076.68" y="980.0" width="15.28" height="29.80" fill="#b0f860"/>
<rect x="3091.35" y="980.0" width="15.28" height="29.80" fill="#b8f850"/>
<rect x="3106.03" y="980.0" width="15.28" height="29.80" fill="#c0f840"/>
<rect x="3120.70" y="980.0" width="15.28" height="29.80" fill="#c8f838"/>
<rect x="3135.38" y="980.0" width="15.28" height="29.80" fill="#d0f830"/>
<rect x="3150.05" y="980.0" width="15.28" height="29.80" fill="#d8f830"/>
<rect x="3164.73" y="980.0" width="15.28" height="29.80" fill="#e8f830"/>
<rect x="3179.40" y="980.0" width="15.28" height="29.80" fill="#f0f830"/>
<rect x="3194.08" y="980.0" width="15.28" height="29.80" fill="#f8f030"/>
<rect x="3208.75" y="980.0" width="15.28" height="29.80" fill="#f0e030"/>
<rect x="3223.43" y="980.0" width="15.28" height="29.80" fill="#e8d030"/>
<rect x="3238.10" y="980.0" width="15.28" height="29.80" fill="#e8c028"/>
<rect x="3252.78" y="980.0" width="15.28" height="29.80" fill="#e0a828"/>
<rect x="3267.45" y="980.0" width="15.28" height="29.80" fill="#e09828"/>
<rect x="3282.13" y="980.0" width="15.28" height="29.80" fill="#d88820"/>
<rect x="3296.80" y="980.0" width="15.28" height="29.80" fill="#d87820"/>
<rect x="3311.48" y="980.0" width="15.28" height="29.80" fill="#d86820"/>
<rect x="3326.15" y="980.0" width="15.28" height="29.80" fill="#d85820"/>
<rect x="3340.83" y="980.0" width="15.28" height="29.80" fill="#d04820"/>
<rect x="3355.50" y="980.0" width="15.28" height="29.80" fill="#d04020"/>
<rect x="3370.18" y="980.0" width="15.28" height="29.80" fill="#d03820"/>
<rect x="3384.85" y="980.0" width="15.28" height="29.80" fill="#d03020"/>
<rect x="3399.53" y="980.0" width="15.28" height="29.80" fill="#d02820"/>
<rect x="3414.20" y="980.0" width="15.28" height="29.80" fill="#d02020"/>
<rect x="3428.88" y="980.0" width="15.28" height="29.80" fill="#c01c1c"/>
<rect x="3443.55" y="980.0" width="15.28" height="29.80" fill="#b81818"/>
<rect x="3458.23" y="980.0" width="15.28" height="29.80" fill="#a81818"/>
<rect x="3472.90" y="980.0" width="15.28" height="29.80" fill="#981418"/>
<rect x="3487.58" y="980.0" width="15.28" height="29.80" fill="#801010"/>
<rect x="3502.25" y="980.0" width="15.28" height="29.80" fill="#701010"/>
<rect x="3516.93" y="980.0" width="15.28" height="29.80" fill="#580c10"/>
<rect x="2594.25" y="981.85" width="935.50" height="26.10" fill="none" stroke="#000" stroke-width="3.7"/>
<line x1="2687.80" y1="980.00" x2="2687.80" y2="989.80" stroke="#000" stroke-width="3.7"/>
<line x1="2687.80" y1="1000.00" x2="2687.80" y2="1009.80" stroke="#000" stroke-width="3.7"/>
<line x1="2781.35" y1="980.00" x2="2781.35" y2="989.80" stroke="#000" stroke-width="3.7"/>
<line x1="2781.35" y1="1000.00" x2="2781.35" y2="1009.80" stroke="#000" stroke-width="3.7"/>
<line x1="2874.90" y1="980.00" x2="2874.90" y2="989.80" stroke="#000" stroke-width="3.7"/>
<line x1="2874.90" y1="1000.00" x2="2874.90" y2="1009.80" stroke="#000" stroke-width="3.7"/>
<line x1="2968.45" y1="980.00" x2="2968.45" y2="989.80" stroke="#000" stroke-width="3.7"/>
<line x1="2968.45" y1="1000.00" x2="2968.45" y2="1009.80" stroke="#000" stroke-width="3.7"/>
<line x1="3062.00" y1="980.00" x2="3062.00" y2="989.80" stroke="#000" stroke-width="3.7"/>
<line x1="3062.00" y1="1000.00" x2="3062.00" y2="1009.80" stroke="#000" stroke-width="3.7"/>
<line x1="3155.55" y1="980.00" x2="3155.55" y2="989.80" stroke="#000" stroke-width="3.7"/>
<line x1="3155.55" y1="1000.00" x2="3155.55" y2="1009.80" stroke="#000" stroke-width="3.7"/>
<line x1="3249.10" y1="980.00" x2="3249.10" y2="989.80" stroke="#000" stroke-width="3.7"/>
<line x1="3249.10" y1="1000.00" x2="3249.10" y2="1009.80" stroke="#000" stroke-width="3.7"/>
<line x1="3342.65" y1="980.00" x2="3342.65" y2="989.80" stroke="#000" stroke-width="3.7"/>
<line x1="3342.65" y1="1000.00" x2="3342.65" y2="1009.80" stroke="#000" stroke-width="3.7"/>
<line x1="3436.20" y1="980.00" x2="3436.20" y2="989.80" stroke="#000" stroke-width="3.7"/>
<line x1="3436.20" y1="1000.00" x2="3436.20" y2="1009.80" stroke="#000" stroke-width="3.7"/>
<text transform="translate(2594.75,1051.8) scale(1,1.05)" font-size="41.5" text-anchor="middle">0</text>
<text transform="translate(2688.30,1051.8) scale(1,1.05)" font-size="41.5" text-anchor="middle">2</text>
<text transform="translate(2781.85,1051.8) scale(1,1.05)" font-size="41.5" text-anchor="middle">4</text>
<text transform="translate(2875.40,1051.8) scale(1,1.05)" font-size="41.5" text-anchor="middle">6</text>
<text transform="translate(2968.95,1051.8) scale(1,1.05)" font-size="41.5" text-anchor="middle">8</text>
<text transform="translate(3062.50,1051.8) scale(1,1.05)" font-size="41.5" text-anchor="middle">10</text>
<text transform="translate(3156.05,1051.8) scale(1,1.05)" font-size="41.5" text-anchor="middle">12</text>
<text transform="translate(3249.60,1051.8) scale(1,1.05)" font-size="41.5" text-anchor="middle">14</text>
<text transform="translate(3343.15,1051.8) scale(1,1.05)" font-size="41.5" text-anchor="middle">16</text>
<text transform="translate(3436.70,1051.8) scale(1,1.05)" font-size="41.5" text-anchor="middle">18</text>
<text transform="translate(3530.25,1051.8) scale(1,1.05)" font-size="41.5" text-anchor="middle">20</text>
<text x="3062.00" y="1109" font-size="41.5" text-anchor="middle">Dissolved PFOS (ng L<tspan font-size="25" dy="-16">−1</tspan><tspan dy="16">)</tspan></text>
</svg></body></html>
